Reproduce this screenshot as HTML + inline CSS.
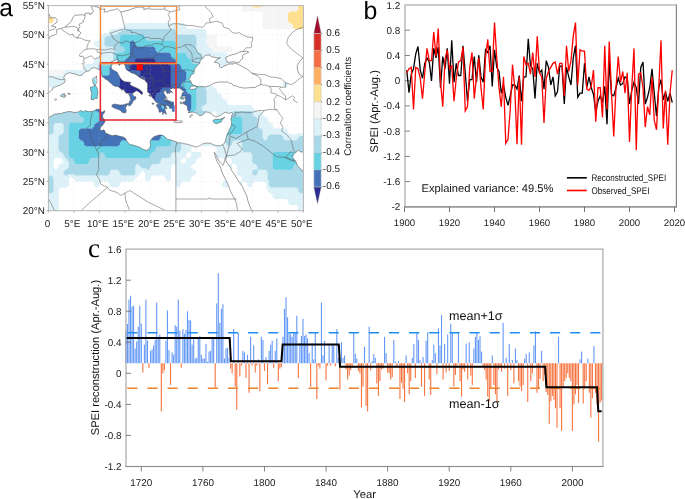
<!DOCTYPE html>
<html><head><meta charset="utf-8"><style>
html,body{margin:0;padding:0;background:#fff;width:685px;height:499px;overflow:hidden}
svg{display:block;font-family:"Liberation Sans", sans-serif;will-change:transform;text-rendering:geometricPrecision}
</style></head><body>
<svg width="685" height="499" viewBox="0 0 685 499">
<text x="-0.8" y="15.5" font-size="24.6" fill="#000">a</text>
<clipPath id="mclip"><rect x="48.4" y="5.6" width="255.0" height="205.1"/></clipPath>
<g clip-path="url(#mclip)">
<path d="M48.3 74.4H62.5V76.0H48.3zM48.3 72.9H63.8V74.6H48.3zM48.3 71.4H63.8V73.1H48.3zM48.3 70.0H63.8V71.6H48.3zM212.8 50.9H232.1V52.6H212.8zM211.5 49.5H232.1V51.1H211.5zM211.5 48.0H232.1V49.7H211.5zM211.5 46.5H232.1V48.2H211.5zM207.7 45.1H216.8V46.7H207.7zM206.4 43.6H216.8V45.3H206.4zM206.4 42.1H216.8V43.8H206.4zM206.4 40.7H216.8V42.3H206.4zM206.4 39.2H216.8V40.9H206.4zM206.4 37.7H216.8V39.4H206.4zM206.4 36.3H216.8V37.9H206.4zM206.4 34.8H216.8V36.5H206.4zM262.5 27.5H293.3V29.1H262.5zM262.5 26.0H293.3V27.7H262.5zM262.5 24.5H293.3V26.2H262.5zM262.5 23.1H292.0V24.7H262.5zM262.5 21.6H288.2V23.3H262.5zM262.5 20.1H288.2V21.8H262.5zM262.5 18.7H288.2V20.4H262.5zM262.5 17.2H288.2V18.9H262.5zM262.5 15.8H288.2V17.4H262.5zM262.5 14.3H288.2V16.0H262.5zM262.5 12.8H288.2V14.5H262.5zM262.5 11.4H288.2V13.0H262.5zM242.1 9.9H297.1V11.6H242.1zM242.1 8.4H298.4V10.1H242.1zM242.1 7.0H298.4V8.6H242.1zM242.1 5.5H298.4V7.2H242.1z" fill="#f5f5f5"/>
<path d="M294.4 27.5H303.5V29.1H294.4zM293.1 26.0H303.5V27.7H293.1zM293.1 24.5H303.5V26.2H293.1zM291.8 23.1H303.5V24.7H291.8zM48.3 21.6H52.3V23.3H48.3zM289.3 21.6H303.5V23.3H289.3zM48.3 20.1H53.6V21.8H48.3zM288.0 20.1H303.5V21.8H288.0zM48.3 18.7H53.6V20.4H48.3zM288.0 18.7H303.5V20.4H288.0zM48.3 17.2H53.6V18.9H48.3zM288.0 17.2H303.5V18.9H288.0zM48.3 15.8H53.6V17.4H48.3zM288.0 15.8H303.5V17.4H288.0zM48.3 14.3H53.6V16.0H48.3zM288.0 14.3H303.5V16.0H288.0zM48.3 12.8H53.6V14.5H48.3zM288.0 12.8H303.5V14.5H288.0zM48.3 11.4H52.3V13.0H48.3zM289.3 11.4H303.5V13.0H289.3zM296.9 9.9H303.5V11.6H296.9zM298.2 8.4H303.5V10.1H298.2zM298.2 7.0H303.5V8.6H298.2zM298.2 5.5H303.5V7.2H298.2z" fill="#fee090"/>
<path d="M48.3 209.1H58.7V210.8H48.3zM298.2 209.1H303.5V210.8H298.2zM48.3 207.7H58.7V209.3H48.3zM298.2 207.7H303.5V209.3H298.2zM48.3 206.2H58.7V207.9H48.3zM298.2 206.2H303.5V207.9H298.2zM48.3 204.7H58.7V206.4H48.3zM296.9 204.7H303.5V206.4H296.9zM48.3 203.3H58.7V204.9H48.3zM289.3 203.3H303.5V204.9H289.3zM48.3 201.8H58.7V203.5H48.3zM288.0 201.8H303.5V203.5H288.0zM48.3 200.3H58.7V202.0H48.3zM288.0 200.3H303.5V202.0H288.0zM48.3 198.9H58.7V200.5H48.3zM286.7 198.9H303.5V200.5H286.7zM48.3 197.4H58.7V199.1H48.3zM274.0 197.4H303.5V199.1H274.0zM48.3 195.9H58.7V197.6H48.3zM272.7 195.9H303.5V197.6H272.7zM48.3 194.5H58.7V196.1H48.3zM272.7 194.5H303.5V196.1H272.7zM48.3 193.0H58.7V194.7H48.3zM271.4 193.0H303.5V194.7H271.4zM52.1 191.6H58.7V193.2H52.1zM268.9 191.6H299.7V193.2H268.9zM53.4 190.1H58.7V191.8H53.4zM267.6 190.1H298.4V191.8H267.6zM53.4 188.6H58.7V190.3H53.4zM267.6 188.6H298.4V190.3H267.6zM53.4 187.2H60.0V188.8H53.4zM266.3 187.2H297.1V188.8H266.3zM53.4 185.7H67.6V187.4H53.4zM95.5 185.7H98.2V187.4H95.5zM110.8 185.7H118.6V187.4H110.8zM177.1 185.7H179.8V187.4H177.1zM223.0 185.7H230.8V187.4H223.0zM238.3 185.7H241.0V187.4H238.3zM248.5 185.7H251.2V187.4H248.5zM266.3 185.7H270.3V187.4H266.3zM53.4 184.2H68.9V185.9H53.4zM94.2 184.2H99.5V185.9H94.2zM109.5 184.2H119.9V185.9H109.5zM175.8 184.2H181.1V185.9H175.8zM221.7 184.2H232.1V185.9H221.7zM237.0 184.2H242.3V185.9H237.0zM247.2 184.2H252.5V185.9H247.2zM266.3 184.2H269.1V185.9H266.3zM53.4 182.8H68.9V184.4H53.4zM94.2 182.8H99.5V184.4H94.2zM109.5 182.8H119.9V184.4H109.5zM175.8 182.8H181.1V184.4H175.8zM221.7 182.8H232.1V184.4H221.7zM237.0 182.8H242.3V184.4H237.0zM247.2 182.8H252.5V184.4H247.2zM266.3 182.8H269.1V184.4H266.3zM53.4 181.3H68.9V183.0H53.4zM92.9 181.3H100.8V183.0H92.9zM108.2 181.3H121.2V183.0H108.2zM175.8 181.3H182.4V183.0H175.8zM223.0 181.3H233.4V183.0H223.0zM237.0 181.3H242.3V183.0H237.0zM245.9 181.3H253.8V183.0H245.9zM265.0 181.3H269.1V183.0H265.0zM53.4 179.8H68.9V181.5H53.4zM75.1 179.8H133.9V181.5H75.1zM146.5 179.8H149.2V181.5H146.5zM166.9 179.8H169.6V181.5H166.9zM175.8 179.8H190.0V181.5H175.8zM225.5 179.8H237.2V181.5H225.5zM242.1 179.8H269.1V181.5H242.1zM53.4 178.4H68.9V180.0H53.4zM73.8 178.4H135.2V180.0H73.8zM145.2 178.4H150.5V180.0H145.2zM165.6 178.4H170.9V180.0H165.6zM175.8 178.4H191.3V180.0H175.8zM226.8 178.4H237.2V180.0H226.8zM242.1 178.4H267.8V180.0H242.1zM53.4 176.9H70.2V178.6H53.4zM72.5 176.9H136.5V178.6H72.5zM145.2 176.9H150.5V178.6H145.2zM165.6 176.9H170.9V178.6H165.6zM175.8 176.9H191.3V178.6H175.8zM226.8 176.9H237.2V178.6H226.8zM242.1 176.9H267.8V178.6H242.1zM52.1 175.4H137.7V177.1H52.1zM145.2 175.4H151.8V177.1H145.2zM164.3 175.4H170.9V177.1H164.3zM175.8 175.4H192.6V177.1H175.8zM228.1 175.4H237.2V177.1H228.1zM240.8 175.4H267.8V177.1H240.8zM48.3 174.0H65.1V175.6H48.3zM67.4 174.0H75.3V175.6H67.4zM108.2 174.0H121.2V175.6H108.2zM133.7 174.0H139.0V175.6H133.7zM145.2 174.0H170.9V175.6H145.2zM175.8 174.0H195.1V175.6H175.8zM237.0 174.0H253.8V175.6H237.0zM256.1 174.0H267.8V175.6H256.1zM48.3 172.5H63.8V174.2H48.3zM109.5 172.5H119.9V174.2H109.5zM135.0 172.5H140.3V174.2H135.0zM145.2 172.5H170.9V174.2H145.2zM175.8 172.5H196.4V174.2H175.8zM237.0 172.5H252.5V174.2H237.0zM257.4 172.5H267.8V174.2H257.4zM48.3 171.0H63.8V172.7H48.3zM109.5 171.0H119.9V172.7H109.5zM135.0 171.0H141.6V172.7H135.0zM143.9 171.0H170.9V172.7H143.9zM175.8 171.0H196.4V172.7H175.8zM237.0 171.0H252.5V172.7H237.0zM257.4 171.0H267.8V172.7H257.4zM48.3 169.6H65.1V171.2H48.3zM110.8 169.6H118.6V171.2H110.8zM135.0 169.6H170.9V171.2H135.0zM175.8 169.6H195.1V171.2H175.8zM237.0 169.6H253.8V171.2H237.0zM257.4 169.6H266.5V171.2H257.4zM48.3 168.1H54.9V169.8H48.3zM57.2 168.1H67.6V169.8H57.2zM135.0 168.1H146.7V169.8H135.0zM149.0 168.1H170.9V169.8H149.0zM175.8 168.1H192.6V169.8H175.8zM228.1 168.1H230.8V169.8H228.1zM237.0 168.1H257.6V169.8H237.0zM48.3 166.7H53.6V168.3H48.3zM58.5 166.7H68.9V168.3H58.5zM135.0 166.7H141.6V168.3H135.0zM150.3 166.7H170.9V168.3H150.3zM175.8 166.7H191.3V168.3H175.8zM226.8 166.7H232.1V168.3H226.8zM237.0 166.7H257.6V168.3H237.0zM48.3 165.2H53.6V166.8H48.3zM58.5 165.2H68.9V166.8H58.5zM135.0 165.2H140.3V166.8H135.0zM150.3 165.2H170.9V166.8H150.3zM175.8 165.2H191.3V166.8H175.8zM226.8 165.2H232.1V166.8H226.8zM237.0 165.2H257.6V166.8H237.0zM48.3 163.7H53.6V165.4H48.3zM59.8 163.7H68.9V165.4H59.8zM136.3 163.7H139.0V165.4H136.3zM151.6 163.7H172.2V165.4H151.6zM174.5 163.7H192.6V165.4H174.5zM228.1 163.7H232.1V165.4H228.1zM235.7 163.7H256.3V165.4H235.7zM48.3 162.3H53.6V163.9H48.3zM62.3 162.3H68.9V163.9H62.3zM159.2 162.3H182.4V163.9H159.2zM184.7 162.3H195.1V163.9H184.7zM231.9 162.3H253.8V163.9H231.9zM48.3 160.8H53.6V162.5H48.3zM63.6 160.8H68.9V162.5H63.6zM160.5 160.8H181.1V162.5H160.5zM186.0 160.8H196.4V162.5H186.0zM231.9 160.8H252.5V162.5H231.9zM48.3 159.3H53.6V161.0H48.3zM62.3 159.3H67.6V161.0H62.3zM160.5 159.3H181.1V161.0H160.5zM186.0 159.3H196.4V161.0H186.0zM231.9 159.3H252.5V161.0H231.9zM48.3 157.9H54.9V159.5H48.3zM61.0 157.9H66.3V159.5H61.0zM161.8 157.9H182.4V159.5H161.8zM186.0 157.9H197.7V159.5H186.0zM230.6 157.9H252.5V159.5H230.6zM48.3 156.4H65.1V158.1H48.3zM169.4 156.4H186.2V158.1H169.4zM189.8 156.4H200.2V158.1H189.8zM217.9 156.4H252.5V158.1H217.9zM48.3 154.9H63.8V156.6H48.3zM170.7 154.9H186.2V156.6H170.7zM191.1 154.9H201.5V156.6H191.1zM216.6 154.9H252.5V156.6H216.6zM48.3 153.5H63.8V155.1H48.3zM170.7 153.5H186.2V155.1H170.7zM191.1 153.5H201.5V155.1H191.1zM216.6 153.5H252.5V155.1H216.6zM48.3 152.0H62.5V153.7H48.3zM172.0 152.0H187.5V153.7H172.0zM191.1 152.0H200.2V153.7H191.1zM216.6 152.0H251.2V153.7H216.6zM48.3 150.5H60.0V152.2H48.3zM179.6 150.5H191.3V152.2H179.6zM216.6 150.5H243.6V152.2H216.6zM48.3 149.1H58.7V150.7H48.3zM180.9 149.1H191.3V150.7H180.9zM216.6 149.1H242.3V150.7H216.6zM48.3 147.6H58.7V149.3H48.3zM180.9 147.6H191.3V149.3H180.9zM216.6 147.6H242.3V149.3H216.6zM48.3 146.1H58.7V147.8H48.3zM180.9 146.1H192.6V147.8H180.9zM215.3 146.1H242.3V147.8H215.3zM48.3 144.7H58.7V146.3H48.3zM180.9 144.7H195.1V146.3H180.9zM202.6 144.7H228.3V146.3H202.6zM230.6 144.7H242.3V146.3H230.6zM48.3 143.2H58.7V144.9H48.3zM180.9 143.2H196.4V144.9H180.9zM201.3 143.2H227.0V144.9H201.3zM231.9 143.2H242.3V144.9H231.9zM48.3 141.7H58.7V143.4H48.3zM180.9 141.7H196.4V143.4H180.9zM201.3 141.7H225.7V143.4H201.3zM231.9 141.7H242.3V143.4H231.9zM48.3 140.3H58.7V141.9H48.3zM182.2 140.3H197.7V141.9H182.2zM201.3 140.3H223.2V141.9H201.3zM233.2 140.3H241.0V141.9H233.2zM48.3 138.8H58.7V140.5H48.3zM189.8 138.8H201.5V140.5H189.8zM205.1 138.8H221.9V140.5H205.1zM263.8 138.8H266.5V140.5H263.8zM284.2 138.8H297.1V140.5H284.2zM48.3 137.3H58.7V139.0H48.3zM191.1 137.3H201.5V139.0H191.1zM206.4 137.3H220.6V139.0H206.4zM262.5 137.3H267.8V139.0H262.5zM282.9 137.3H298.4V139.0H282.9zM48.3 135.9H58.7V137.5H48.3zM191.1 135.9H201.5V137.5H191.1zM206.4 135.9H220.6V137.5H206.4zM262.5 135.9H267.8V137.5H262.5zM282.9 135.9H299.7V137.5H282.9zM48.3 134.4H60.0V136.1H48.3zM189.8 134.4H200.2V136.1H189.8zM207.7 134.4H218.1V136.1H207.7zM262.5 134.4H269.1V136.1H262.5zM281.6 134.4H303.5V136.1H281.6zM52.1 133.0H62.5V134.6H52.1zM189.8 133.0H193.8V134.6H189.8zM210.2 133.0H216.8V134.6H210.2zM262.5 133.0H289.5V134.6H262.5zM296.9 133.0H303.5V134.6H296.9zM53.4 131.5H63.8V133.2H53.4zM189.8 131.5H192.6V133.2H189.8zM211.5 131.5H215.5V133.2H211.5zM262.5 131.5H288.2V133.2H262.5zM53.4 130.0H63.8V131.7H53.4zM189.8 130.0H192.6V131.7H189.8zM211.5 130.0H215.5V131.7H211.5zM262.5 130.0H288.2V131.7H262.5zM53.4 128.6H63.8V130.2H53.4zM180.9 128.6H184.9V130.2H180.9zM191.1 128.6H205.3V130.2H191.1zM212.8 128.6H218.1V130.2H212.8zM261.2 128.6H286.9V130.2H261.2zM53.4 127.1H63.8V128.8H53.4zM136.3 127.1H144.1V128.8H136.3zM177.1 127.1H186.2V128.8H177.1zM192.4 127.1H206.6V128.8H192.4zM215.3 127.1H220.6V128.8H215.3zM258.7 127.1H274.2V128.8H258.7zM53.4 125.6H63.8V127.3H53.4zM136.3 125.6H137.7V127.3H136.3zM142.6 125.6H144.1V127.3H142.6zM177.1 125.6H178.5V127.3H177.1zM184.7 125.6H187.5V127.3H184.7zM205.1 125.6H207.9V127.3H205.1zM219.1 125.6H221.9V127.3H219.1zM257.4 125.6H272.9V127.3H257.4zM53.4 124.2H63.8V125.8H53.4zM135.0 124.2H136.5V125.8H135.0zM143.9 124.2H145.4V125.8H143.9zM177.1 124.2H186.2V125.8H177.1zM205.1 124.2H207.9V125.8H205.1zM220.4 124.2H221.9V125.8H220.4zM257.4 124.2H272.9V125.8H257.4zM54.7 122.7H62.5V124.4H54.7zM135.0 122.7H136.5V124.4H135.0zM143.9 122.7H145.4V124.4H143.9zM205.1 122.7H207.9V124.4H205.1zM220.4 122.7H223.2V124.4H220.4zM257.4 122.7H271.6V124.4H257.4zM132.4 121.2H136.5V122.9H132.4zM143.9 121.2H147.9V122.9H143.9zM205.1 121.2H207.9V122.9H205.1zM220.4 121.2H223.2V122.9H220.4zM257.4 121.2H269.1V122.9H257.4zM115.9 119.8H132.6V121.4H115.9zM147.8 119.8H149.2V121.4H147.8zM205.1 119.8H207.9V121.4H205.1zM221.7 119.8H225.7V121.4H221.7zM257.4 119.8H267.8V121.4H257.4zM114.6 118.3H116.1V120.0H114.6zM147.8 118.3H149.2V120.0H147.8zM205.1 118.3H207.9V120.0H205.1zM221.7 118.3H225.7V120.0H221.7zM257.4 118.3H267.8V120.0H257.4zM114.6 116.8H116.1V118.5H114.6zM143.9 116.8H147.9V118.5H143.9zM205.1 116.8H209.1V118.5H205.1zM220.4 116.8H227.0V118.5H220.4zM256.1 116.8H266.5V118.5H256.1zM112.0 115.4H116.1V117.0H112.0zM143.9 115.4H145.4V117.0H143.9zM205.1 115.4H210.4V117.0H205.1zM217.9 115.4H228.3V117.0H217.9zM253.6 115.4H264.0V117.0H253.6zM110.8 113.9H112.2V115.6H110.8zM143.9 113.9H145.4V115.6H143.9zM206.4 113.9H211.7V115.6H206.4zM216.6 113.9H230.8V115.6H216.6zM252.3 113.9H262.7V115.6H252.3zM110.8 112.4H112.2V114.1H110.8zM127.3 112.4H144.1V114.1H127.3zM206.4 112.4H211.7V114.1H206.4zM216.6 112.4H232.1V114.1H216.6zM252.3 112.4H262.7V114.1H252.3zM110.8 111.0H112.2V112.6H110.8zM123.5 111.0H127.5V112.6H123.5zM205.1 111.0H213.0V112.6H205.1zM215.3 111.0H233.4V112.6H215.3zM251.0 111.0H261.4V112.6H251.0zM110.8 109.5H112.2V111.2H110.8zM123.5 109.5H125.0V111.2H123.5zM202.6 109.5H255.0V111.2H202.6zM110.8 108.0H112.2V109.7H110.8zM123.5 108.0H125.0V109.7H123.5zM201.3 108.0H253.8V109.7H201.3zM110.8 106.6H112.2V108.2H110.8zM122.2 106.6H123.7V108.2H122.2zM201.3 106.6H252.5V108.2H201.3zM54.7 105.1H67.6V106.8H54.7zM110.8 105.1H112.2V106.8H110.8zM122.2 105.1H123.7V106.8H122.2zM202.6 105.1H251.2V106.8H202.6zM53.4 103.7H68.9V105.3H53.4zM85.3 103.7H96.9V105.3H85.3zM110.8 103.7H112.2V105.3H110.8zM122.2 103.7H123.7V105.3H122.2zM205.1 103.7H228.3V105.3H205.1zM52.1 102.2H54.9V103.9H52.1zM66.2 102.2H68.9V103.9H66.2zM84.0 102.2H86.7V103.9H84.0zM96.8 102.2H103.3V103.9H96.8zM110.8 102.2H112.2V103.9H110.8zM122.2 102.2H123.7V103.9H122.2zM206.4 102.2H227.0V103.9H206.4zM52.1 100.7H54.9V102.4H52.1zM67.4 100.7H68.9V102.4H67.4zM84.0 100.7H85.5V102.4H84.0zM101.8 100.7H103.3V102.4H101.8zM110.8 100.7H123.7V102.4H110.8zM206.4 100.7H227.0V102.4H206.4zM48.3 99.3H53.6V100.9H48.3zM67.4 99.3H70.2V100.9H67.4zM82.7 99.3H85.5V100.9H82.7zM101.8 99.3H103.3V100.9H101.8zM206.4 99.3H225.7V100.9H206.4zM48.3 97.8H52.3V99.5H48.3zM68.7 97.8H84.2V99.5H68.7zM101.8 97.8H103.3V99.5H101.8zM206.4 97.8H223.2V99.5H206.4zM101.8 96.3H103.3V98.0H101.8zM206.4 96.3H221.9V98.0H206.4zM101.8 94.9H103.3V96.5H101.8zM206.4 94.9H221.9V96.5H206.4zM101.8 93.4H103.3V95.1H101.8zM206.4 93.4H220.6V95.1H206.4zM54.7 91.9H62.5V93.6H54.7zM70.0 91.9H72.7V93.6H70.0zM101.8 91.9H103.3V93.6H101.8zM206.4 91.9H218.1V93.6H206.4zM53.4 90.5H63.8V92.1H53.4zM68.7 90.5H74.0V92.1H68.7zM101.8 90.5H103.3V92.1H101.8zM206.4 90.5H216.8V92.1H206.4zM53.4 89.0H63.8V90.7H53.4zM68.7 89.0H74.0V90.7H68.7zM101.8 89.0H103.3V90.7H101.8zM206.4 89.0H216.8V90.7H206.4zM52.1 87.5H65.1V89.2H52.1zM67.4 87.5H75.3V89.2H67.4zM98.0 87.5H102.0V89.2H98.0zM205.1 87.5H215.5V89.2H205.1zM48.3 86.1H82.9V87.7H48.3zM98.0 86.1H99.5V87.7H98.0zM203.8 86.1H213.0V87.7H203.8zM284.2 86.1H286.9V87.7H284.2zM48.3 84.6H84.2V86.3H48.3zM98.0 84.6H99.5V86.3H98.0zM202.6 84.6H211.7V86.3H202.6zM282.9 84.6H288.2V86.3H282.9zM48.3 83.1H84.2V84.8H48.3zM96.8 83.1H98.2V84.8H96.8zM202.6 83.1H211.7V84.8H202.6zM282.9 83.1H288.2V84.8H282.9zM48.3 81.7H85.5V83.3H48.3zM87.8 81.7H98.2V83.3H87.8zM205.1 81.7H210.4V83.3H205.1zM284.2 81.7H286.9V83.3H284.2zM48.3 80.2H90.6V81.9H48.3zM206.4 80.2H209.1V81.9H206.4zM48.3 78.8H88.0V80.4H48.3zM206.4 78.8H207.9V80.4H206.4zM48.3 77.3H88.0V78.9H48.3zM206.4 77.3H209.1V78.9H206.4zM48.3 75.8H89.3V77.5H48.3zM207.7 75.8H213.0V77.5H207.7zM62.3 74.4H90.6V76.0H62.3zM207.7 74.4H235.9V76.0H207.7zM63.6 72.9H93.1V74.6H63.6zM210.2 72.9H237.2V74.6H210.2zM63.6 71.4H93.1V73.1H63.6zM211.5 71.4H237.2V73.1H211.5zM64.9 70.0H94.4V71.6H64.9zM211.5 70.0H237.2V71.6H211.5zM82.7 68.5H95.7V70.2H82.7zM211.5 68.5H237.2V70.2H211.5zM84.0 67.0H98.2V68.7H84.0zM211.5 67.0H237.2V68.7H211.5zM84.0 65.6H98.2V67.2H84.0zM211.5 65.6H237.2V67.2H211.5zM85.3 64.1H99.5V65.8H85.3zM210.2 64.1H235.9V65.8H210.2zM92.9 62.6H100.8V64.3H92.9zM207.7 62.6H233.4V64.3H207.7zM94.2 61.2H112.2V62.8H94.2zM206.4 61.2H232.1V62.8H206.4zM94.2 59.7H113.5V61.4H94.2zM206.4 59.7H232.1V61.4H206.4zM95.5 58.2H113.5V59.9H95.5zM205.1 58.2H230.8V59.9H205.1zM98.0 56.8H113.5V58.4H98.0zM202.6 56.8H228.3V58.4H202.6zM99.3 55.3H113.5V57.0H99.3zM201.3 55.3H227.0V57.0H201.3zM99.3 53.8H113.5V55.5H99.3zM201.3 53.8H227.0V55.5H201.3zM99.3 52.4H113.5V54.0H99.3zM200.0 52.4H225.7V54.0H200.0zM99.3 50.9H113.5V52.6H99.3zM197.5 50.9H213.0V52.6H197.5zM99.3 49.5H114.8V51.1H99.3zM196.2 49.5H211.7V51.1H196.2zM99.3 48.0H114.8V49.7H99.3zM196.2 48.0H211.7V49.7H196.2zM98.0 46.5H113.5V48.2H98.0zM196.2 46.5H210.4V48.2H196.2zM95.5 45.1H105.9V46.7H95.5zM196.2 45.1H207.9V46.7H196.2zM94.2 43.6H104.6V45.3H94.2zM196.2 43.6H206.6V45.3H196.2zM94.2 42.1H104.6V43.8H94.2zM196.2 42.1H206.6V43.8H196.2zM95.5 40.7H104.6V42.3H95.5zM196.2 40.7H206.6V42.3H196.2zM98.0 39.2H104.6V40.9H98.0zM196.2 39.2H206.6V40.9H196.2zM99.3 37.7H104.6V39.4H99.3zM196.2 37.7H206.6V39.4H196.2zM99.3 36.3H105.9V37.9H99.3zM196.2 36.3H206.6V37.9H196.2zM100.6 34.8H111.0V36.5H100.6zM194.9 34.8H206.6V36.5H194.9zM103.1 33.3H117.3V35.0H103.1zM177.1 33.3H206.6V35.0H177.1zM108.2 31.9H118.6V33.5H108.2zM175.8 31.9H206.6V33.5H175.8zM109.5 30.4H121.2V32.1H109.5zM175.8 30.4H206.6V32.1H175.8zM110.8 28.9H126.3V30.6H110.8zM174.5 28.9H205.3V30.6H174.5zM118.4 27.5H187.5V29.1H118.4zM123.5 26.0H186.2V27.7H123.5zM124.8 24.5H186.2V26.2H124.8zM126.1 23.1H184.9V24.7H126.1z" fill="#ddf1f9"/>
<path d="M48.3 191.6H52.3V193.2H48.3zM299.5 191.6H303.5V193.2H299.5zM48.3 190.1H53.6V191.8H48.3zM298.2 190.1H303.5V191.8H298.2zM48.3 188.6H53.6V190.3H48.3zM298.2 188.6H303.5V190.3H298.2zM48.3 187.2H53.6V188.8H48.3zM296.9 187.2H303.5V188.8H296.9zM48.3 185.7H53.6V187.4H48.3zM270.1 185.7H303.5V187.4H270.1zM48.3 184.2H53.6V185.9H48.3zM268.9 184.2H303.5V185.9H268.9zM48.3 182.8H53.6V184.4H48.3zM268.9 182.8H303.5V184.4H268.9zM48.3 181.3H53.6V183.0H48.3zM268.9 181.3H303.5V183.0H268.9zM48.3 179.8H53.6V181.5H48.3zM268.9 179.8H303.5V181.5H268.9zM48.3 178.4H53.6V180.0H48.3zM267.6 178.4H303.5V180.0H267.6zM48.3 176.9H53.6V178.6H48.3zM267.6 176.9H303.5V178.6H267.6zM48.3 175.4H52.3V177.1H48.3zM267.6 175.4H303.5V177.1H267.6zM64.9 174.0H67.6V175.6H64.9zM75.1 174.0H108.4V175.6H75.1zM121.0 174.0H133.9V175.6H121.0zM253.6 174.0H256.3V175.6H253.6zM267.6 174.0H303.5V175.6H267.6zM63.6 172.5H109.7V174.2H63.6zM119.7 172.5H135.2V174.2H119.7zM252.3 172.5H257.6V174.2H252.3zM267.6 172.5H303.5V174.2H267.6zM63.6 171.0H109.7V172.7H63.6zM119.7 171.0H135.2V172.7H119.7zM252.3 171.0H257.6V172.7H252.3zM267.6 171.0H303.5V172.7H267.6zM64.9 169.6H111.0V171.2H64.9zM118.4 169.6H135.2V171.2H118.4zM253.6 169.6H257.6V171.2H253.6zM266.3 169.6H303.5V171.2H266.3zM67.4 168.1H135.2V169.8H67.4zM146.5 168.1H149.2V169.8H146.5zM257.4 168.1H274.2V169.8H257.4zM291.8 168.1H303.5V169.8H291.8zM68.7 166.7H135.2V168.3H68.7zM141.4 166.7H150.5V168.3H141.4zM257.4 166.7H272.9V168.3H257.4zM293.1 166.7H303.5V168.3H293.1zM68.7 165.2H135.2V166.8H68.7zM140.1 165.2H150.5V166.8H140.1zM257.4 165.2H272.9V166.8H257.4zM293.1 165.2H303.5V166.8H293.1zM68.7 163.7H136.5V165.4H68.7zM138.8 163.7H151.8V165.4H138.8zM256.1 163.7H272.9V165.4H256.1zM294.4 163.7H303.5V165.4H294.4zM68.7 162.3H75.3V163.9H68.7zM87.8 162.3H159.4V163.9H87.8zM253.6 162.3H272.9V163.9H253.6zM296.9 162.3H303.5V163.9H296.9zM68.7 160.8H74.0V162.5H68.7zM89.1 160.8H160.7V162.5H89.1zM252.3 160.8H272.9V162.5H252.3zM298.2 160.8H303.5V162.5H298.2zM67.4 159.3H74.0V161.0H67.4zM89.1 159.3H160.7V161.0H89.1zM252.3 159.3H272.9V161.0H252.3zM298.2 159.3H303.5V161.0H298.2zM66.2 157.9H72.7V159.5H66.2zM90.4 157.9H162.0V159.5H90.4zM252.3 157.9H272.9V159.5H252.3zM298.2 157.9H303.5V159.5H298.2zM64.9 156.4H70.2V158.1H64.9zM98.0 156.4H105.9V158.1H98.0zM149.0 156.4H169.6V158.1H149.0zM252.3 156.4H272.9V158.1H252.3zM298.2 156.4H303.5V158.1H298.2zM63.6 154.9H68.9V156.6H63.6zM99.3 154.9H104.6V156.6H99.3zM150.3 154.9H170.9V156.6H150.3zM252.3 154.9H272.9V156.6H252.3zM298.2 154.9H303.5V156.6H298.2zM63.6 153.5H68.9V155.1H63.6zM99.3 153.5H104.6V155.1H99.3zM150.3 153.5H170.9V155.1H150.3zM252.3 153.5H272.9V155.1H252.3zM298.2 153.5H303.5V155.1H298.2zM62.3 152.0H68.9V153.7H62.3zM100.6 152.0H103.3V153.7H100.6zM151.6 152.0H172.2V153.7H151.6zM251.0 152.0H274.2V153.7H251.0zM296.9 152.0H303.5V153.7H296.9zM59.8 150.5H68.9V152.2H59.8zM154.1 150.5H179.8V152.2H154.1zM243.4 150.5H303.5V152.2H243.4zM58.5 149.1H68.9V150.7H58.5zM155.4 149.1H181.1V150.7H155.4zM242.1 149.1H303.5V150.7H242.1zM58.5 147.6H68.9V149.3H58.5zM155.4 147.6H181.1V149.3H155.4zM242.1 147.6H303.5V149.3H242.1zM58.5 146.1H68.9V147.8H58.5zM156.7 146.1H181.1V147.8H156.7zM242.1 146.1H303.5V147.8H242.1zM58.5 144.7H68.9V146.3H58.5zM169.4 144.7H181.1V146.3H169.4zM228.1 144.7H230.8V146.3H228.1zM242.1 144.7H303.5V146.3H242.1zM58.5 143.2H68.9V144.9H58.5zM170.7 143.2H181.1V144.9H170.7zM226.8 143.2H232.1V144.9H226.8zM242.1 143.2H303.5V144.9H242.1zM58.5 141.7H68.9V143.4H58.5zM170.7 141.7H181.1V143.4H170.7zM225.5 141.7H232.1V143.4H225.5zM242.1 141.7H303.5V143.4H242.1zM58.5 140.3H68.9V141.9H58.5zM172.0 140.3H182.4V141.9H172.0zM223.0 140.3H233.4V141.9H223.0zM240.8 140.3H303.5V141.9H240.8zM58.5 138.8H68.9V140.5H58.5zM174.5 138.8H190.0V140.5H174.5zM221.7 138.8H264.0V140.5H221.7zM266.3 138.8H284.4V140.5H266.3zM296.9 138.8H303.5V140.5H296.9zM58.5 137.3H68.9V139.0H58.5zM175.8 137.3H191.3V139.0H175.8zM220.4 137.3H223.2V139.0H220.4zM225.5 137.3H262.7V139.0H225.5zM267.6 137.3H283.1V139.0H267.6zM298.2 137.3H303.5V139.0H298.2zM58.5 135.9H68.9V137.5H58.5zM175.8 135.9H191.3V137.5H175.8zM220.4 135.9H223.2V137.5H220.4zM226.8 135.9H262.7V137.5H226.8zM267.6 135.9H283.1V137.5H267.6zM299.5 135.9H303.5V137.5H299.5zM59.8 134.4H68.9V136.1H59.8zM177.1 134.4H190.0V136.1H177.1zM217.9 134.4H221.9V136.1H217.9zM228.1 134.4H262.7V136.1H228.1zM268.9 134.4H281.8V136.1H268.9zM48.3 133.0H52.3V134.6H48.3zM62.3 133.0H68.9V134.6H62.3zM179.6 133.0H190.0V134.6H179.6zM216.6 133.0H220.6V134.6H216.6zM240.8 133.0H262.7V134.6H240.8zM48.3 131.5H53.6V133.2H48.3zM63.6 131.5H68.9V133.2H63.6zM180.9 131.5H190.0V133.2H180.9zM215.3 131.5H218.1V133.2H215.3zM242.1 131.5H262.7V133.2H242.1zM48.3 130.0H53.6V131.7H48.3zM63.6 130.0H68.9V131.7H63.6zM179.6 130.0H190.0V131.7H179.6zM215.3 130.0H219.3V131.7H215.3zM242.1 130.0H262.7V131.7H242.1zM48.3 128.6H53.6V130.2H48.3zM63.6 128.6H68.9V130.2H63.6zM136.3 128.6H144.1V130.2H136.3zM175.8 128.6H181.1V130.2H175.8zM184.7 128.6H191.3V130.2H184.7zM217.9 128.6H221.9V130.2H217.9zM242.1 128.6H261.4V130.2H242.1zM48.3 127.1H53.6V128.8H48.3zM63.6 127.1H68.9V128.8H63.6zM135.0 127.1H136.5V128.8H135.0zM143.9 127.1H145.4V128.8H143.9zM175.8 127.1H177.3V128.8H175.8zM186.0 127.1H192.6V128.8H186.0zM220.4 127.1H223.2V128.8H220.4zM242.1 127.1H258.9V128.8H242.1zM48.3 125.6H53.6V127.3H48.3zM63.6 125.6H68.9V127.3H63.6zM135.0 125.6H136.5V127.3H135.0zM143.9 125.6H145.4V127.3H143.9zM175.8 125.6H177.3V127.3H175.8zM187.3 125.6H205.3V127.3H187.3zM221.7 125.6H223.2V127.3H221.7zM242.1 125.6H257.6V127.3H242.1zM48.3 124.2H53.6V125.8H48.3zM63.6 124.2H68.9V125.8H63.6zM133.7 124.2H135.2V125.8H133.7zM145.2 124.2H146.7V125.8H145.2zM175.8 124.2H177.3V125.8H175.8zM186.0 124.2H205.3V125.8H186.0zM221.7 124.2H224.4V125.8H221.7zM242.1 124.2H257.6V125.8H242.1zM48.3 122.7H54.9V124.4H48.3zM62.3 122.7H70.2V124.4H62.3zM132.4 122.7H135.2V124.4H132.4zM145.2 122.7H147.9V124.4H145.2zM175.8 122.7H187.5V124.4H175.8zM189.8 122.7H205.3V124.4H189.8zM223.0 122.7H225.7V124.4H223.0zM242.1 122.7H257.6V124.4H242.1zM48.3 121.2H82.9V122.9H48.3zM114.6 121.2H132.6V122.9H114.6zM147.8 121.2H150.5V122.9H147.8zM191.1 121.2H205.3V122.9H191.1zM223.0 121.2H227.0V122.9H223.0zM242.1 121.2H257.6V122.9H242.1zM48.3 119.8H84.2V121.4H48.3zM114.6 119.8H116.1V121.4H114.6zM149.0 119.8H150.5V121.4H149.0zM192.4 119.8H205.3V121.4H192.4zM225.5 119.8H228.3V121.4H225.5zM242.1 119.8H257.6V121.4H242.1zM48.3 118.3H84.2V120.0H48.3zM113.3 118.3H114.8V120.0H113.3zM149.0 118.3H150.5V120.0H149.0zM192.4 118.3H205.3V120.0H192.4zM225.5 118.3H228.3V120.0H225.5zM242.1 118.3H257.6V120.0H242.1zM48.3 116.8H82.9V118.5H48.3zM112.0 116.8H114.8V118.5H112.0zM147.8 116.8H150.5V118.5H147.8zM192.4 116.8H205.3V118.5H192.4zM226.8 116.8H233.4V118.5H226.8zM240.8 116.8H256.3V118.5H240.8zM48.3 115.4H80.4V117.0H48.3zM109.5 115.4H112.2V117.0H109.5zM145.2 115.4H147.9V117.0H145.2zM192.4 115.4H205.3V117.0H192.4zM228.1 115.4H253.8V117.0H228.1zM48.3 113.9H79.1V115.6H48.3zM109.5 113.9H111.0V115.6H109.5zM145.2 113.9H146.7V115.6H145.2zM191.1 113.9H206.6V115.6H191.1zM230.6 113.9H252.5V115.6H230.6zM48.3 112.4H79.1V114.1H48.3zM109.5 112.4H111.0V114.1H109.5zM143.9 112.4H145.4V114.1H143.9zM192.4 112.4H206.6V114.1H192.4zM231.9 112.4H252.5V114.1H231.9zM48.3 111.0H77.8V112.6H48.3zM109.5 111.0H111.0V112.6H109.5zM127.3 111.0H144.1V112.6H127.3zM193.7 111.0H205.3V112.6H193.7zM233.2 111.0H251.2V112.6H233.2zM48.3 109.5H75.3V111.2H48.3zM109.5 109.5H111.0V111.2H109.5zM124.8 109.5H127.5V111.2H124.8zM194.9 109.5H202.8V111.2H194.9zM48.3 108.0H74.0V109.7H48.3zM109.5 108.0H111.0V109.7H109.5zM124.8 108.0H126.3V109.7H124.8zM196.2 108.0H201.5V109.7H196.2zM48.3 106.6H74.0V108.2H48.3zM109.5 106.6H111.0V108.2H109.5zM123.5 106.6H125.0V108.2H123.5zM196.2 106.6H201.5V108.2H196.2zM48.3 105.1H54.9V106.8H48.3zM67.4 105.1H72.7V106.8H67.4zM84.0 105.1H96.9V106.8H84.0zM109.5 105.1H111.0V106.8H109.5zM123.5 105.1H125.0V106.8H123.5zM196.2 105.1H202.8V106.8H196.2zM48.3 103.7H53.6V105.3H48.3zM68.7 103.7H71.4V105.3H68.7zM82.7 103.7H85.5V105.3H82.7zM96.8 103.7H104.6V105.3H96.8zM109.5 103.7H111.0V105.3H109.5zM123.5 103.7H125.0V105.3H123.5zM196.2 103.7H205.3V105.3H196.2zM48.3 102.2H52.3V103.9H48.3zM68.7 102.2H70.2V103.9H68.7zM82.7 102.2H84.2V103.9H82.7zM103.1 102.2H104.6V103.9H103.1zM109.5 102.2H111.0V103.9H109.5zM123.5 102.2H125.0V103.9H123.5zM196.2 102.2H206.6V103.9H196.2zM48.3 100.7H52.3V102.4H48.3zM68.7 100.7H71.4V102.4H68.7zM81.5 100.7H84.2V102.4H81.5zM103.1 100.7H104.6V102.4H103.1zM109.5 100.7H111.0V102.4H109.5zM123.5 100.7H125.0V102.4H123.5zM196.2 100.7H206.6V102.4H196.2zM70.0 99.3H82.9V100.9H70.0zM103.1 99.3H104.6V100.9H103.1zM110.8 99.3H123.7V100.9H110.8zM196.2 99.3H206.6V100.9H196.2zM103.1 97.8H104.6V99.5H103.1zM196.2 97.8H206.6V99.5H196.2zM103.1 96.3H104.6V98.0H103.1zM196.2 96.3H206.6V98.0H196.2zM103.1 94.9H104.6V96.5H103.1zM196.2 94.9H206.6V96.5H196.2zM103.1 93.4H104.6V95.1H103.1zM196.2 93.4H206.6V95.1H196.2zM103.1 91.9H104.6V93.6H103.1zM196.2 91.9H206.6V93.6H196.2zM103.1 90.5H104.6V92.1H103.1zM196.2 90.5H206.6V92.1H196.2zM103.1 89.0H104.6V90.7H103.1zM196.2 89.0H206.6V90.7H196.2zM101.8 87.5H104.6V89.2H101.8zM197.5 87.5H205.3V89.2H197.5zM99.3 86.1H102.0V87.7H99.3zM198.8 86.1H204.0V87.7H198.8zM99.3 84.6H100.8V86.3H99.3zM200.0 84.6H202.8V86.3H200.0zM98.0 83.1H99.5V84.8H98.0zM200.0 83.1H202.8V84.8H200.0zM98.0 81.7H99.5V83.3H98.0zM201.3 81.7H205.3V83.3H201.3zM90.4 80.2H98.2V81.9H90.4zM202.6 80.2H206.6V81.9H202.6zM87.8 78.8H91.8V80.4H87.8zM203.8 78.8H206.6V80.4H203.8zM87.8 77.3H90.6V78.9H87.8zM205.1 77.3H206.6V78.9H205.1zM89.1 75.8H93.1V77.5H89.1zM205.1 75.8H207.9V77.5H205.1zM90.4 74.4H94.4V76.0H90.4zM205.1 74.4H207.9V76.0H205.1zM92.9 72.9H95.7V74.6H92.9zM206.4 72.9H210.4V74.6H206.4zM92.9 71.4H95.7V73.1H92.9zM206.4 71.4H211.7V73.1H206.4zM94.2 70.0H98.2V71.6H94.2zM205.1 70.0H211.7V71.6H205.1zM95.5 68.5H99.5V70.2H95.5zM202.6 68.5H211.7V70.2H202.6zM98.0 67.0H100.8V68.7H98.0zM201.3 67.0H211.7V68.7H201.3zM98.0 65.6H100.8V67.2H98.0zM201.3 65.6H211.7V67.2H201.3zM99.3 64.1H109.7V65.8H99.3zM200.0 64.1H210.4V65.8H200.0zM100.6 62.6H113.5V64.3H100.6zM192.4 62.6H207.9V64.3H192.4zM112.0 61.2H116.1V62.8H112.0zM191.1 61.2H206.6V62.8H191.1zM113.3 59.7H116.1V61.4H113.3zM191.1 59.7H206.6V61.4H191.1zM113.3 58.2H116.1V59.9H113.3zM189.8 58.2H205.3V59.9H189.8zM113.3 56.8H116.1V58.4H113.3zM187.3 56.8H202.8V58.4H187.3zM113.3 55.3H116.1V57.0H113.3zM186.0 55.3H201.5V57.0H186.0zM113.3 53.8H116.1V55.5H113.3zM186.0 53.8H201.5V55.5H186.0zM113.3 52.4H117.3V54.0H113.3zM184.7 52.4H200.2V54.0H184.7zM113.3 50.9H123.7V52.6H113.3zM177.1 50.9H197.7V52.6H177.1zM114.6 49.5H125.0V51.1H114.6zM175.8 49.5H196.4V51.1H175.8zM114.6 48.0H125.0V49.7H114.6zM175.8 48.0H196.4V49.7H175.8zM113.3 46.5H123.7V48.2H113.3zM175.8 46.5H196.4V48.2H175.8zM105.7 45.1H121.2V46.7H105.7zM175.8 45.1H196.4V46.7H175.8zM104.4 43.6H119.9V45.3H104.4zM175.8 43.6H196.4V45.3H175.8zM104.4 42.1H119.9V43.8H104.4zM175.8 42.1H196.4V43.8H175.8zM104.4 40.7H119.9V42.3H104.4zM174.5 40.7H196.4V42.3H174.5zM104.4 39.2H119.9V40.9H104.4zM146.5 39.2H196.4V40.9H146.5zM104.4 37.7H119.9V39.4H104.4zM145.2 37.7H196.4V39.4H145.2zM105.7 36.3H119.9V37.9H105.7zM145.2 36.3H196.4V37.9H145.2zM110.8 34.8H121.2V36.5H110.8zM143.9 34.8H195.1V36.5H143.9zM117.2 33.3H177.3V35.0H117.2zM118.4 31.9H176.0V33.5H118.4zM121.0 30.4H176.0V32.1H121.0zM126.1 28.9H174.7V30.6H126.1z" fill="#a9d8e8"/>
<path d="M274.0 168.1H292.0V169.8H274.0zM272.7 166.7H293.3V168.3H272.7zM272.7 165.2H293.3V166.8H272.7zM272.7 163.7H294.6V165.4H272.7zM75.1 162.3H88.0V163.9H75.1zM272.7 162.3H297.1V163.9H272.7zM73.8 160.8H89.3V162.5H73.8zM272.7 160.8H298.4V162.5H272.7zM73.8 159.3H89.3V161.0H73.8zM272.7 159.3H298.4V161.0H272.7zM72.5 157.9H90.6V159.5H72.5zM272.7 157.9H298.4V159.5H272.7zM70.0 156.4H98.2V158.1H70.0zM105.7 156.4H149.2V158.1H105.7zM272.7 156.4H298.4V158.1H272.7zM68.7 154.9H99.5V156.6H68.7zM104.4 154.9H150.5V156.6H104.4zM272.7 154.9H298.4V156.6H272.7zM68.7 153.5H99.5V155.1H68.7zM104.4 153.5H150.5V155.1H104.4zM272.7 153.5H298.4V155.1H272.7zM68.7 152.0H100.8V153.7H68.7zM103.1 152.0H151.8V153.7H103.1zM274.0 152.0H297.1V153.7H274.0zM68.7 150.5H154.3V152.2H68.7zM68.7 149.1H155.6V150.7H68.7zM68.7 147.6H155.6V149.3H68.7zM68.7 146.1H156.9V147.8H68.7zM68.7 144.7H85.5V146.3H68.7zM118.4 144.7H169.6V146.3H118.4zM68.7 143.2H84.2V144.9H68.7zM119.7 143.2H170.9V144.9H119.7zM68.7 141.7H84.2V143.4H68.7zM119.7 141.7H170.9V143.4H119.7zM68.7 140.3H82.9V141.9H68.7zM121.0 140.3H172.2V141.9H121.0zM68.7 138.8H80.4V140.5H68.7zM128.6 138.8H151.8V140.5H128.6zM159.2 138.8H174.7V140.5H159.2zM68.7 137.3H79.1V139.0H68.7zM129.9 137.3H150.5V139.0H129.9zM160.5 137.3H176.0V139.0H160.5zM223.0 137.3H225.7V139.0H223.0zM68.7 135.9H79.1V137.5H68.7zM129.9 135.9H150.5V137.5H129.9zM160.5 135.9H176.0V137.5H160.5zM223.0 135.9H227.0V137.5H223.0zM68.7 134.4H79.1V136.1H68.7zM131.2 134.4H149.2V136.1H131.2zM161.8 134.4H177.3V136.1H161.8zM221.7 134.4H228.3V136.1H221.7zM68.7 133.0H79.1V134.6H68.7zM133.7 133.0H146.7V134.6H133.7zM164.3 133.0H179.8V134.6H164.3zM220.4 133.0H241.0V134.6H220.4zM68.7 131.5H79.1V133.2H68.7zM135.0 131.5H145.4V133.2H135.0zM165.6 131.5H181.1V133.2H165.6zM217.9 131.5H242.3V133.2H217.9zM68.7 130.0H79.1V131.7H68.7zM133.7 130.0H146.7V131.7H133.7zM165.6 130.0H179.8V131.7H165.6zM219.1 130.0H242.3V131.7H219.1zM68.7 128.6H80.4V130.2H68.7zM133.7 128.6H136.5V130.2H133.7zM143.9 128.6H146.7V130.2H143.9zM166.9 128.6H176.0V130.2H166.9zM221.7 128.6H242.3V130.2H221.7zM68.7 127.1H93.1V128.8H68.7zM133.7 127.1H135.2V128.8H133.7zM145.2 127.1H146.7V128.8H145.2zM173.2 127.1H176.0V128.8H173.2zM223.0 127.1H242.3V128.8H223.0zM68.7 125.6H94.4V127.3H68.7zM133.7 125.6H135.2V127.3H133.7zM145.2 125.6H146.7V127.3H145.2zM173.2 125.6H176.0V127.3H173.2zM223.0 125.6H242.3V127.3H223.0zM68.7 124.2H94.4V125.8H68.7zM132.4 124.2H133.9V125.8H132.4zM146.5 124.2H147.9V125.8H146.5zM174.5 124.2H176.0V125.8H174.5zM224.2 124.2H242.3V125.8H224.2zM70.0 122.7H95.7V124.4H70.0zM113.3 122.7H132.6V124.4H113.3zM147.8 122.7H151.8V124.4H147.8zM174.5 122.7H176.0V124.4H174.5zM187.3 122.7H190.0V124.4H187.3zM225.5 122.7H242.3V124.4H225.5zM82.7 121.2H98.2V122.9H82.7zM113.3 121.2H114.8V122.9H113.3zM150.3 121.2H151.8V122.9H150.3zM174.5 121.2H191.3V122.9H174.5zM226.8 121.2H242.3V122.9H226.8zM84.0 119.8H99.5V121.4H84.0zM113.3 119.8H114.8V121.4H113.3zM150.3 119.8H151.8V121.4H150.3zM189.8 119.8H192.6V121.4H189.8zM228.1 119.8H242.3V121.4H228.1zM84.0 118.3H99.5V120.0H84.0zM112.0 118.3H113.5V120.0H112.0zM150.3 118.3H151.8V120.0H150.3zM189.8 118.3H192.6V120.0H189.8zM228.1 118.3H242.3V120.0H228.1zM82.7 116.8H99.5V118.5H82.7zM108.2 116.8H112.2V118.5H108.2zM150.3 116.8H151.8V118.5H150.3zM188.5 116.8H192.6V118.5H188.5zM233.2 116.8H241.0V118.5H233.2zM80.2 115.4H99.5V117.0H80.2zM108.2 115.4H109.7V117.0H108.2zM147.8 115.4H151.8V117.0H147.8zM187.3 115.4H192.6V117.0H187.3zM78.9 113.9H99.5V115.6H78.9zM108.2 113.9H109.7V115.6H108.2zM146.5 113.9H147.9V115.6H146.5zM186.0 113.9H191.3V115.6H186.0zM78.9 112.4H99.5V114.1H78.9zM108.2 112.4H109.7V114.1H108.2zM145.2 112.4H146.7V114.1H145.2zM186.0 112.4H192.6V114.1H186.0zM77.6 111.0H98.2V112.6H77.6zM108.2 111.0H109.7V112.6H108.2zM143.9 111.0H146.7V112.6H143.9zM187.3 111.0H193.8V112.6H187.3zM75.1 109.5H95.7V111.2H75.1zM108.2 109.5H109.7V111.2H108.2zM127.3 109.5H144.1V111.2H127.3zM189.8 109.5H195.1V111.2H189.8zM73.8 108.0H94.4V109.7H73.8zM108.2 108.0H109.7V109.7H108.2zM126.1 108.0H127.5V109.7H126.1zM191.1 108.0H196.4V109.7H191.1zM73.8 106.6H96.9V108.2H73.8zM108.2 106.6H109.7V108.2H108.2zM124.8 106.6H126.3V108.2H124.8zM191.1 106.6H196.4V108.2H191.1zM72.5 105.1H84.2V106.8H72.5zM96.8 105.1H105.9V106.8H96.8zM108.2 105.1H109.7V106.8H108.2zM124.8 105.1H126.3V106.8H124.8zM191.1 105.1H196.4V106.8H191.1zM71.2 103.7H82.9V105.3H71.2zM104.4 103.7H105.9V105.3H104.4zM108.2 103.7H109.7V105.3H108.2zM124.8 103.7H126.3V105.3H124.8zM191.1 103.7H196.4V105.3H191.1zM70.0 102.2H82.9V103.9H70.0zM104.4 102.2H105.9V103.9H104.4zM108.2 102.2H109.7V103.9H108.2zM124.8 102.2H126.3V103.9H124.8zM191.1 102.2H196.4V103.9H191.1zM71.2 100.7H81.6V102.4H71.2zM104.4 100.7H105.9V102.4H104.4zM108.2 100.7H109.7V102.4H108.2zM124.8 100.7H126.3V102.4H124.8zM191.1 100.7H196.4V102.4H191.1zM104.4 99.3H105.9V100.9H104.4zM108.2 99.3H111.0V100.9H108.2zM123.5 99.3H126.3V100.9H123.5zM191.1 99.3H196.4V100.9H191.1zM104.4 97.8H105.9V99.5H104.4zM109.5 97.8H125.0V99.5H109.5zM191.1 97.8H196.4V99.5H191.1zM104.4 96.3H105.9V98.0H104.4zM191.1 96.3H196.4V98.0H191.1zM104.4 94.9H105.9V96.5H104.4zM191.1 94.9H196.4V96.5H191.1zM104.4 93.4H105.9V95.1H104.4zM189.8 93.4H196.4V95.1H189.8zM104.4 91.9H105.9V93.6H104.4zM187.3 91.9H196.4V93.6H187.3zM104.4 90.5H105.9V92.1H104.4zM186.0 90.5H196.4V92.1H186.0zM104.4 89.0H105.9V90.7H104.4zM186.0 89.0H196.4V90.7H186.0zM104.4 87.5H105.9V89.2H104.4zM184.7 87.5H197.7V89.2H184.7zM101.8 86.1H105.9V87.7H101.8zM182.2 86.1H198.9V87.7H182.2zM100.6 84.6H102.0V86.3H100.6zM180.9 84.6H200.2V86.3H180.9zM99.3 83.1H100.8V84.8H99.3zM180.9 83.1H200.2V84.8H180.9zM99.3 81.7H100.8V83.3H99.3zM182.2 81.7H201.5V83.3H182.2zM98.0 80.2H100.8V81.9H98.0zM184.7 80.2H202.8V81.9H184.7zM91.7 78.8H100.8V80.4H91.7zM186.0 78.8H204.0V80.4H186.0zM90.4 77.3H99.5V78.9H90.4zM186.0 77.3H205.3V78.9H186.0zM92.9 75.8H100.8V77.5H92.9zM186.0 75.8H205.3V77.5H186.0zM94.2 74.4H108.4V76.0H94.2zM186.0 74.4H205.3V76.0H186.0zM95.5 72.9H109.7V74.6H95.5zM186.0 72.9H206.6V74.6H186.0zM95.5 71.4H109.7V73.1H95.5zM186.0 71.4H206.6V73.1H186.0zM98.0 70.0H109.7V71.6H98.0zM184.7 70.0H205.3V71.6H184.7zM99.3 68.5H109.7V70.2H99.3zM182.2 68.5H202.8V70.2H182.2zM100.6 67.0H109.7V68.7H100.6zM180.9 67.0H201.5V68.7H180.9zM100.6 65.6H111.0V67.2H100.6zM180.9 65.6H201.5V67.2H180.9zM109.5 64.1H116.1V65.8H109.5zM179.6 64.1H200.2V65.8H179.6zM113.3 62.6H123.7V64.3H113.3zM177.1 62.6H192.6V64.3H177.1zM115.9 61.2H125.0V62.8H115.9zM175.8 61.2H191.3V62.8H175.8zM115.9 59.7H125.0V61.4H115.9zM175.8 59.7H191.3V61.4H175.8zM115.9 58.2H126.3V59.9H115.9zM174.5 58.2H190.0V59.9H174.5zM115.9 56.8H128.8V58.4H115.9zM172.0 56.8H187.5V58.4H172.0zM115.9 55.3H130.1V57.0H115.9zM170.7 55.3H186.2V57.0H170.7zM115.9 53.8H130.1V55.5H115.9zM170.7 53.8H186.2V55.5H170.7zM117.2 52.4H130.1V54.0H117.2zM169.4 52.4H184.9V54.0H169.4zM123.5 50.9H130.1V52.6H123.5zM156.7 50.9H177.3V52.6H156.7zM124.8 49.5H130.1V51.1H124.8zM155.4 49.5H176.0V51.1H155.4zM124.8 48.0H130.1V49.7H124.8zM155.4 48.0H176.0V49.7H155.4zM123.5 46.5H130.1V48.2H123.5zM154.1 46.5H176.0V48.2H154.1zM121.0 45.1H130.1V46.7H121.0zM136.3 45.1H176.0V46.7H136.3zM119.7 43.6H130.1V45.3H119.7zM135.0 43.6H176.0V45.3H135.0zM119.7 42.1H130.1V43.8H119.7zM135.0 42.1H176.0V43.8H135.0zM119.7 40.7H131.4V42.3H119.7zM133.7 40.7H174.7V42.3H133.7zM119.7 39.2H146.7V40.9H119.7zM119.7 37.7H145.4V39.4H119.7zM119.7 36.3H145.4V37.9H119.7zM121.0 34.8H144.1V36.5H121.0z" fill="#67d2e3"/>
<path d="M85.3 144.7H118.6V146.3H85.3zM84.0 143.2H119.9V144.9H84.0zM84.0 141.7H119.9V143.4H84.0zM82.7 140.3H121.2V141.9H82.7zM80.2 138.8H128.8V140.5H80.2zM151.6 138.8H159.4V140.5H151.6zM78.9 137.3H130.1V139.0H78.9zM150.3 137.3H160.7V139.0H150.3zM78.9 135.9H130.1V137.5H78.9zM150.3 135.9H160.7V137.5H150.3zM78.9 134.4H131.4V136.1H78.9zM149.0 134.4H162.0V136.1H149.0zM78.9 133.0H133.9V134.6H78.9zM146.5 133.0H164.5V134.6H146.5zM78.9 131.5H135.2V133.2H78.9zM145.2 131.5H165.8V133.2H145.2zM78.9 130.0H133.9V131.7H78.9zM146.5 130.0H165.8V131.7H146.5zM80.2 128.6H133.9V130.2H80.2zM146.5 128.6H167.1V130.2H146.5zM92.9 127.1H133.9V128.8H92.9zM146.5 127.1H173.4V128.8H146.5zM94.2 125.6H133.9V127.3H94.2zM146.5 125.6H173.4V127.3H146.5zM94.2 124.2H132.6V125.8H94.2zM147.8 124.2H174.7V125.8H147.8zM95.5 122.7H113.5V124.4H95.5zM151.6 122.7H174.7V124.4H151.6zM98.0 121.2H113.5V122.9H98.0zM151.6 121.2H174.7V122.9H151.6zM99.3 119.8H113.5V121.4H99.3zM151.6 119.8H190.0V121.4H151.6zM99.3 118.3H112.2V120.0H99.3zM151.6 118.3H190.0V120.0H151.6zM99.3 116.8H108.4V118.5H99.3zM151.6 116.8H188.7V118.5H151.6zM99.3 115.4H108.4V117.0H99.3zM151.6 115.4H187.5V117.0H151.6zM99.3 113.9H108.4V115.6H99.3zM147.8 113.9H186.2V115.6H147.8zM99.3 112.4H108.4V114.1H99.3zM146.5 112.4H186.2V114.1H146.5zM98.0 111.0H108.4V112.6H98.0zM146.5 111.0H187.5V112.6H146.5zM95.5 109.5H108.4V111.2H95.5zM143.9 109.5H147.9V111.2H143.9zM149.0 109.5H190.0V111.2H149.0zM94.2 108.0H108.4V109.7H94.2zM127.3 108.0H144.1V109.7H127.3zM150.3 108.0H191.3V109.7H150.3zM96.8 106.6H108.4V108.2H96.8zM126.1 106.6H140.3V108.2H126.1zM150.3 106.6H191.3V108.2H150.3zM105.7 105.1H108.4V106.8H105.7zM126.1 105.1H140.3V106.8H126.1zM151.6 105.1H191.3V106.8H151.6zM105.7 103.7H108.4V105.3H105.7zM126.1 103.7H140.3V105.3H126.1zM154.1 103.7H191.3V105.3H154.1zM105.7 102.2H108.4V103.9H105.7zM126.1 102.2H140.3V103.9H126.1zM155.4 102.2H191.3V103.9H155.4zM105.7 100.7H108.4V102.4H105.7zM126.1 100.7H140.3V102.4H126.1zM155.4 100.7H191.3V102.4H155.4zM105.7 99.3H108.4V100.9H105.7zM126.1 99.3H139.0V100.9H126.1zM155.4 99.3H191.3V100.9H155.4zM105.7 97.8H109.7V99.5H105.7zM124.8 97.8H136.5V99.5H124.8zM155.4 97.8H191.3V99.5H155.4zM105.7 96.3H135.2V98.0H105.7zM155.4 96.3H191.3V98.0H155.4zM105.7 94.9H109.7V96.5H105.7zM124.8 94.9H135.2V96.5H124.8zM155.4 94.9H191.3V96.5H155.4zM105.7 93.4H111.0V95.1H105.7zM126.1 93.4H133.9V95.1H126.1zM156.7 93.4H190.0V95.1H156.7zM105.7 91.9H113.5V93.6H105.7zM159.2 91.9H172.2V93.6H159.2zM174.5 91.9H187.5V93.6H174.5zM105.7 90.5H114.8V92.1H105.7zM160.5 90.5H170.9V92.1H160.5zM175.8 90.5H186.2V92.1H175.8zM105.7 89.0H114.8V90.7H105.7zM160.5 89.0H170.9V90.7H160.5zM175.8 89.0H186.2V90.7H175.8zM105.7 87.5H116.1V89.2H105.7zM161.8 87.5H170.9V89.2H161.8zM174.5 87.5H184.9V89.2H174.5zM105.7 86.1H118.6V87.7H105.7zM170.7 86.1H182.4V87.7H170.7zM101.8 84.6H119.9V86.3H101.8zM170.7 84.6H181.1V86.3H170.7zM100.6 83.1H119.9V84.8H100.6zM170.7 83.1H181.1V84.8H170.7zM100.6 81.7H119.9V83.3H100.6zM170.7 81.7H182.4V83.3H170.7zM100.6 80.2H119.9V81.9H100.6zM141.4 80.2H144.1V81.9H141.4zM170.7 80.2H184.9V81.9H170.7zM100.6 78.8H119.9V80.4H100.6zM140.1 78.8H145.4V80.4H140.1zM170.7 78.8H186.2V80.4H170.7zM99.3 77.3H119.9V78.9H99.3zM140.1 77.3H145.4V78.9H140.1zM170.7 77.3H186.2V78.9H170.7zM100.6 75.8H121.2V77.5H100.6zM140.1 75.8H144.1V77.5H140.1zM170.7 75.8H186.2V77.5H170.7zM108.2 74.4H123.7V76.0H108.2zM131.2 74.4H140.3V76.0H131.2zM170.7 74.4H186.2V76.0H170.7zM109.5 72.9H125.0V74.6H109.5zM129.9 72.9H140.3V74.6H129.9zM170.7 72.9H186.2V74.6H170.7zM109.5 71.4H125.0V73.1H109.5zM129.9 71.4H140.3V73.1H129.9zM170.7 71.4H186.2V73.1H170.7zM109.5 70.0H126.3V71.6H109.5zM129.9 70.0H139.0V71.6H129.9zM170.7 70.0H184.9V71.6H170.7zM109.5 68.5H130.1V70.2H109.5zM170.7 68.5H182.4V70.2H170.7zM109.5 67.0H130.1V68.7H109.5zM170.7 67.0H181.1V68.7H170.7zM110.8 65.6H130.1V67.2H110.8zM170.7 65.6H181.1V67.2H170.7zM115.9 64.1H131.4V65.8H115.9zM169.4 64.1H179.8V65.8H169.4zM123.5 62.6H133.9V64.3H123.5zM156.7 62.6H177.3V64.3H156.7zM124.8 61.2H135.2V62.8H124.8zM155.4 61.2H176.0V62.8H155.4zM124.8 59.7H135.2V61.4H124.8zM155.4 59.7H176.0V61.4H155.4zM126.1 58.2H136.5V59.9H126.1zM154.1 58.2H174.7V59.9H154.1zM128.6 56.8H172.2V58.4H128.6zM129.9 55.3H170.9V57.0H129.9zM129.9 53.8H170.9V55.5H129.9zM129.9 52.4H169.6V54.0H129.9zM129.9 50.9H156.9V52.6H129.9zM129.9 49.5H155.6V51.1H129.9zM129.9 48.0H155.6V49.7H129.9zM129.9 46.5H154.3V48.2H129.9zM129.9 45.1H136.5V46.7H129.9zM129.9 43.6H135.2V45.3H129.9zM129.9 42.1H135.2V43.8H129.9zM131.2 40.7H133.9V42.3H131.2z" fill="#4472b8"/>
<path d="M147.8 109.5H149.2V111.2H147.8zM143.9 108.0H150.5V109.7H143.9zM140.1 106.6H150.5V108.2H140.1zM140.1 105.1H151.8V106.8H140.1zM140.1 103.7H154.3V105.3H140.1zM140.1 102.2H155.6V103.9H140.1zM140.1 100.7H155.6V102.4H140.1zM138.8 99.3H155.6V100.9H138.8zM136.3 97.8H155.6V99.5H136.3zM135.0 96.3H155.6V98.0H135.0zM109.5 94.9H125.0V96.5H109.5zM135.0 94.9H155.6V96.5H135.0zM110.8 93.4H126.3V95.1H110.8zM133.7 93.4H156.9V95.1H133.7zM113.3 91.9H159.4V93.6H113.3zM172.0 91.9H174.7V93.6H172.0zM114.6 90.5H160.7V92.1H114.6zM170.7 90.5H176.0V92.1H170.7zM114.6 89.0H160.7V90.7H114.6zM170.7 89.0H176.0V90.7H170.7zM115.9 87.5H162.0V89.2H115.9zM170.7 87.5H174.7V89.2H170.7zM118.4 86.1H170.9V87.7H118.4zM119.7 84.6H170.9V86.3H119.7zM119.7 83.1H170.9V84.8H119.7zM119.7 81.7H170.9V83.3H119.7zM119.7 80.2H141.6V81.9H119.7zM143.9 80.2H170.9V81.9H143.9zM119.7 78.8H140.3V80.4H119.7zM145.2 78.8H170.9V80.4H145.2zM119.7 77.3H140.3V78.9H119.7zM145.2 77.3H170.9V78.9H145.2zM121.0 75.8H140.3V77.5H121.0zM143.9 75.8H170.9V77.5H143.9zM123.5 74.4H131.4V76.0H123.5zM140.1 74.4H170.9V76.0H140.1zM124.8 72.9H130.1V74.6H124.8zM140.1 72.9H170.9V74.6H140.1zM124.8 71.4H130.1V73.1H124.8zM140.1 71.4H170.9V73.1H140.1zM126.1 70.0H130.1V71.6H126.1zM138.8 70.0H170.9V71.6H138.8zM129.9 68.5H170.9V70.2H129.9zM129.9 67.0H170.9V68.7H129.9zM129.9 65.6H170.9V67.2H129.9zM131.2 64.1H169.6V65.8H131.2zM133.7 62.6H156.9V64.3H133.7zM135.0 61.2H155.6V62.8H135.0zM135.0 59.7H155.6V61.4H135.0zM136.3 58.2H154.3V59.9H136.3z" fill="#2c2f92"/>
<polygon points="40.8,99.4 46.5,96.6 48.1,93.6 50.8,90.7 52.8,89.3 52.2,88.5 54.8,87.0 59.5,85.4 62.7,83.7 64.7,82.4 64.7,81.2 65.3,79.9 64.2,78.7 63.9,77.1 64.7,75.3 66.1,74.3 67.3,73.6 69.3,72.7 71.3,73.3 72.9,73.7 74.2,73.6 75.8,74.2 77.0,74.9 78.6,75.3 79.8,75.7 82.1,75.0 82.6,74.2 84.2,72.7 85.5,71.8 86.6,71.3 88.1,71.1 89.4,70.8 91.6,68.3 93.9,67.7 95.5,68.0 98.5,69.5 99.9,70.1 100.7,70.8 101.0,72.7 101.9,74.7 101.9,76.3 103.5,77.4 104.5,78.3 105.5,79.2 107.6,80.1 108.6,81.3 110.6,83.0 112.8,85.0 115.0,86.3 117.6,86.4 119.3,87.3 120.1,88.5 121.1,88.6 121.6,90.0 123.7,89.6 124.8,91.4 126.4,93.3 128.1,93.1 128.7,94.1 130.2,97.3 130.5,99.7 131.0,100.5 129.5,101.2 129.2,102.6 128.2,104.6 128.7,105.7 130.3,105.6 132.0,103.5 132.8,101.2 135.8,98.9 135.9,97.0 134.6,96.4 132.5,95.1 133.1,92.9 136.3,90.7 138.7,91.7 140.1,93.2 142.0,94.7 142.7,92.6 139.9,89.7 136.6,87.9 134.4,86.9 131.4,85.8 129.6,83.9 130.9,82.5 129.5,82.2 124.9,81.8 123.4,81.1 120.9,79.1 119.2,76.2 117.2,72.3 114.2,70.6 112.5,69.7 111.0,67.6 112.1,64.5 111.0,62.9 111.3,61.6 112.9,61.3 115.2,60.4 117.4,59.5 118.6,60.4 118.4,61.0 117.4,61.7 117.8,62.9 118.0,63.7 119.0,65.0 119.5,65.4 120.6,63.7 121.3,62.2 122.0,62.3 123.3,63.2 124.4,64.2 125.4,66.5 126.1,69.4 129.5,71.6 131.3,72.9 132.2,72.9 135.2,74.2 137.3,75.6 138.7,76.8 140.7,78.0 143.0,79.1 144.1,79.3 144.5,80.1 145.8,81.3 146.3,82.2 147.6,83.0 147.6,85.8 147.6,87.6 147.3,89.1 147.8,90.7 147.3,91.7 149.1,92.9 150.4,94.3 151.8,96.4 152.4,97.7 154.2,99.6 155.5,101.7 157.6,103.1 159.2,103.8 161.6,104.0 165.2,105.2 162.6,104.6 159.2,104.3 157.0,104.3 156.3,105.6 157.5,107.2 158.9,109.6 159.1,112.1 160.4,112.3 161.2,111.0 162.5,112.5 163.0,114.7 163.7,112.3 165.2,113.4 166.7,114.4 166.0,112.9 165.2,110.5 164.7,107.7 166.2,108.4 167.0,108.9 166.5,107.4 165.3,105.6 167.2,105.5 168.9,105.6 169.3,106.4 170.9,107.3 171.1,105.5 170.8,104.3 168.8,102.6 167.2,101.7 165.2,100.2 163.7,100.1 165.2,98.8 165.4,97.3 167.2,98.5 165.7,96.4 164.7,94.7 163.7,92.9 163.7,91.9 165.4,89.7 166.2,91.7 167.7,93.8 168.2,92.3 169.3,93.8 170.3,91.7 172.8,92.6 170.3,90.6 169.3,89.6 172.9,88.0 174.9,88.5 178.4,87.9 180.3,88.5 181.4,89.3 182.0,90.3 184.6,90.9 182.3,93.2 182.0,94.7 181.4,96.5 183.5,96.1 186.1,96.0 184.6,97.6 185.6,98.9 185.8,99.9 184.8,101.3 186.1,102.6 183.5,101.7 182.5,103.3 184.1,104.0 187.4,106.0 187.5,108.9 188.2,110.9 190.2,111.3 188.1,112.8 192.6,112.0 195.3,112.8 196.8,113.3 199.6,115.8 202.4,115.2 204.2,113.4 205.0,111.8 208.5,112.4 211.6,113.8 213.1,115.4 215.8,116.8 219.2,116.1 221.4,114.8 225.0,112.3 226.9,112.4 228.8,113.7 231.0,112.4 232.9,113.5 231.5,115.8 231.6,116.5 230.9,119.8 231.7,121.7 231.4,123.4 231.2,126.1 230.2,128.0 229.4,129.2 228.8,131.2 227.9,132.9 226.8,135.6 226.1,138.4 225.7,139.9 225.1,141.6 224.1,143.3 223.0,144.5 220.8,145.5 217.7,145.8 213.1,144.7 210.7,143.2 209.0,143.3 206.5,143.0 203.4,143.6 201.8,144.4 200.9,145.1 197.8,146.5 196.0,147.2 192.7,145.9 187.3,144.2 183.5,143.6 180.6,142.7 176.7,142.9 176.4,141.8 170.6,139.9 167.2,139.2 163.9,135.9 161.6,135.1 159.1,135.1 157.0,135.7 155.2,136.2 153.3,137.3 150.8,139.7 150.1,142.1 150.7,145.1 149.9,147.4 148.3,149.7 146.3,150.5 143.1,149.2 140.2,147.4 137.6,146.5 133.0,145.1 130.0,144.5 127.4,142.1 125.4,138.2 122.9,136.9 121.1,136.6 117.8,135.7 115.6,135.1 112.1,135.7 110.0,134.9 107.6,133.9 105.5,133.3 105.0,131.6 104.0,129.8 101.9,130.7 99.9,129.3 100.4,127.5 103.3,124.3 105.0,121.6 104.8,119.9 103.6,118.3 102.7,117.9 102.5,114.7 103.2,114.3 104.5,112.3 104.8,110.6 103.5,111.4 102.5,112.0 100.9,112.3 100.4,109.9 98.7,109.5 98.6,109.0 95.3,109.9 93.1,111.4 90.7,111.4 88.0,111.7 85.6,110.6 83.6,111.8 80.5,110.5 79.0,111.7 77.8,112.1 74.3,112.5 71.3,111.7 68.3,111.5 65.7,112.3 64.0,112.4 61.7,113.4 60.9,113.4 59.6,113.4 56.6,114.0 55.0,113.9 51.5,115.8 48.9,117.4 46.9,118.1 45.1,118.7 40.8,119.9" fill="#fff"/>
<polygon points="189.2,88.5 191.7,86.2 195.8,85.9 196.8,87.3 194.8,89.1 191.2,89.4 189.2,88.5" fill="#fff"/>
<polygon points="196.8,86.5 199.4,86.6 202.9,86.5 205.0,87.1 208.6,86.0 210.6,85.0 213.1,83.5 216.7,82.4 220.6,81.9 225.4,82.1 227.7,81.7 229.4,83.5 231.5,83.2 233.7,85.9 235.6,85.6 238.5,86.9 241.6,87.6 244.2,88.1 251.0,87.6 255.1,87.5 257.5,85.9 259.6,85.3 260.8,83.9 260.9,80.9 260.6,78.8 257.5,75.9 253.9,74.2 251.0,72.4 247.7,69.5 242.6,66.8 241.0,65.8 238.7,64.8 236.6,63.6 235.1,63.0 234.0,63.9 228.8,64.0 226.7,65.1 223.9,66.1 222.7,67.1 220.8,67.8 219.4,66.5 219.5,65.1 218.6,63.1 216.2,62.4 214.1,62.1 215.7,61.3 217.2,59.2 220.3,57.8 216.7,58.0 216.2,57.8 211.6,56.6 209.0,55.1 209.3,54.7 205.1,55.5 203.4,57.8 202.4,58.9 199.9,61.3 199.7,63.3 197.3,65.4 194.5,69.1 194.2,71.1 193.6,73.8 190.8,74.7 190.7,76.5 189.8,77.9 188.5,78.8 189.7,80.0 190.4,80.8 191.2,82.4 191.7,83.9 194.3,85.6 196.8,86.5" fill="#fff"/>
<polygon points="235.1,62.4 234.0,61.6 229.4,62.4 226.9,62.1 225.9,58.9 225.9,57.3 228.4,56.0 232.0,54.8 236.0,53.9 239.9,51.9 246.8,51.2 248.8,52.2 244.7,54.2 243.6,54.2 242.2,56.0 243.1,58.0 240.2,60.7 239.0,62.6 236.6,62.4 235.1,62.4" fill="#fff"/>
<polygon points="313.6,52.5 306.5,56.0 302.9,57.8 299.8,61.3 297.3,65.4 297.5,70.1 299.3,74.2 302.9,76.5 313.6,78.8" fill="#fff"/>
<polygon points="214.4,152.3 214.7,154.4 215.4,156.8 217.1,161.8 219.2,165.0 220.9,168.2 221.5,171.3 223.2,175.0 226.4,181.0 229.3,187.6 230.5,191.4 234.0,197.8 236.6,203.7 238.1,216.6 254.9,216.6 250.9,208.9 248.2,201.9 246.8,196.0 243.7,189.6 242.5,186.7 239.6,182.6 238.5,181.1 234.3,174.2 231.5,170.3 230.5,167.6 227.9,163.8 226.1,162.1 225.9,159.1 226.9,154.9 226.4,155.0 225.1,158.0 224.5,160.9 223.5,164.4 223.1,165.4 220.8,163.2 219.8,162.4 217.7,158.5 215.2,153.0 214.4,152.3" fill="#fff"/>
<polygon points="293.1,155.8 291.7,155.9 293.2,158.0 295.2,160.9 295.7,161.3 297.8,166.2 301.6,169.7 303.4,172.0 304.4,174.4 313.6,181.4 313.6,149.2 304.2,151.8 301.4,152.1 298.3,150.3 295.7,152.4 294.2,153.3 293.1,155.8" fill="#fff"/>
<polygon points="45.9,30.5 48.4,30.3 49.9,30.4 51.5,29.9 53.4,29.6 54.0,29.0 55.4,28.2 55.8,26.8 53.0,26.4 51.5,26.0 53.2,24.9 54.9,23.5 56.5,22.7 57.3,20.4 57.2,19.4 55.0,17.7 50.9,17.6 49.9,18.5 49.2,17.6 50.1,16.5 49.0,13.9 47.9,13.2 45.9,13.2 45.9,2.7 156.5,2.7 156.0,1.5 155.5,3.8 155.0,5.6 150.4,5.9 147.8,8.8 143.5,9.4 144.3,7.9 142.2,7.1 137.9,7.1 134.3,8.1 127.9,10.4 123.4,11.5 121.1,11.9 119.8,11.2 117.2,8.5 115.2,9.7 110.1,10.4 106.8,12.0 104.0,11.8 105.0,8.8 100.2,9.5 99.4,7.9 96.5,6.9 97.4,5.6 97.9,2.7 92.3,2.7 90.7,5.6 92.3,8.5 92.3,9.7 93.5,10.7 92.8,12.2 91.8,13.8 89.7,14.4 90.2,13.2 85.1,13.2 85.1,15.3 85.1,15.9 83.1,14.7 79.0,15.0 74.9,15.3 72.6,17.6 71.9,20.2 71.6,20.8 70.2,22.6 69.3,23.3 67.3,24.9 66.2,25.8 66.6,26.5 65.2,27.0 63.3,27.7 60.5,28.7 57.8,29.3 56.5,29.8 56.6,30.7 56.6,32.6 56.6,33.7 55.5,34.5 53.9,35.3 50.3,36.3 48.9,37.9 49.4,38.2 49.6,38.3 48.4,39.0 45.9,39.0" fill="#fff"/>
<polygon points="96.3,75.9 96.7,77.1 96.6,78.3 97.1,81.2 96.3,83.5 95.1,85.4 93.8,84.7 92.9,82.2 92.3,80.0 93.0,78.4 94.8,77.5 95.8,77.7" fill="#ffffff"/>
<polygon points="95.3,85.3 96.8,87.6 97.9,91.7 97.4,96.4 97.1,98.5 94.8,98.2 93.5,99.9 91.2,99.4 91.2,95.3 91.8,93.5 90.7,90.3 90.2,87.3 93.3,86.5" fill="#67d2e3"/>
<polygon points="128.2,103.6 126.2,106.4 125.4,108.1 126.4,110.7 125.4,113.0 121.8,112.3 121.1,110.7 117.8,109.3 114.2,107.9 111.8,106.4 112.1,104.9 115.2,104.0 116.5,104.5 119.8,105.0 122.9,104.9 125.9,104.0" fill="#4472b8"/>
<polygon points="173.9,120.6 176.6,120.7 179.5,120.9 182.5,121.2 182.0,122.3 178.4,122.7 174.6,122.5" fill="#ffffff"/>
<polygon points="213.1,121.0 213.6,119.9 216.7,119.3 220.3,119.3 224.9,117.2 221.8,120.2 221.5,121.6 219.8,122.4 216.7,123.7 214.7,123.1 213.6,122.2" fill="#67d2e3"/>
<polygon points="60.4,96.1 62.2,94.1 64.7,93.8 64.2,95.0 66.0,95.6 65.0,97.3 63.4,97.3 62.4,96.4 61.4,96.7" fill="#a9d8e8"/>
<polygon points="67.8,93.5 69.3,93.1 70.3,94.4 68.8,94.1 67.8,93.9" fill="#a9d8e8"/>
<polygon points="54.5,99.7 55.8,98.8 56.6,99.4 55.5,100.2" fill="#ffffff"/>
<polygon points="164.7,100.2 166.7,99.4 168.2,100.5 171.3,101.7 173.6,104.3 172.3,104.9 168.8,102.9 166.2,101.4" fill="#4472b8"/>
<polygon points="189.7,116.1 192.2,114.3 192.5,115.2 190.2,117.5" fill="#ffffff"/>
<polygon points="180.2,97.6 182.8,97.0 184.1,99.1 181.0,99.1" fill="#67d2e3"/>
<polygon points="180.2,102.0 181.8,102.0 181.5,104.0 180.5,103.8" fill="#a9d8e8"/>
<polygon points="152.4,102.9 154.0,103.5 153.2,104.6 152.2,104.0" fill="#4472b8"/>
<polygon points="148.6,95.0 150.1,94.7 150.9,96.7 149.6,96.1" fill="#4472b8"/>
<polygon points="249.8,4.4 263.6,4.4 262.6,6.5 257.5,7.4 252.4,7.1" fill="#fee090"/>
<polygon points="167.7,101.7 173.9,101.7 173.9,105.2 174.6,105.2 174.6,111.7 172.1,111.7 172.1,108.7 169.3,108.7 169.3,107.0 167.7,105.8" fill="#4472b8"/>
<polygon points="161.1,105.2 163.7,105.8 164.2,108.7 162.1,108.7" fill="#67d2e3"/>
<polygon points="93.5,78.8 95.3,78.6 95.6,81.8 95.3,84.7 94.0,84.4 93.3,82.1" fill="#67d2e3"/>
<line x1="73.9" x2="73.9" y1="5.6" y2="210.7" stroke="#c8c8c8" stroke-width="0.5" stroke-dasharray="0.8,3.2"/>
<line x1="99.4" x2="99.4" y1="5.6" y2="210.7" stroke="#c8c8c8" stroke-width="0.5" stroke-dasharray="0.8,3.2"/>
<line x1="124.9" x2="124.9" y1="5.6" y2="210.7" stroke="#c8c8c8" stroke-width="0.5" stroke-dasharray="0.8,3.2"/>
<line x1="150.4" x2="150.4" y1="5.6" y2="210.7" stroke="#c8c8c8" stroke-width="0.5" stroke-dasharray="0.8,3.2"/>
<line x1="175.9" x2="175.9" y1="5.6" y2="210.7" stroke="#c8c8c8" stroke-width="0.5" stroke-dasharray="0.8,3.2"/>
<line x1="201.4" x2="201.4" y1="5.6" y2="210.7" stroke="#c8c8c8" stroke-width="0.5" stroke-dasharray="0.8,3.2"/>
<line x1="226.9" x2="226.9" y1="5.6" y2="210.7" stroke="#c8c8c8" stroke-width="0.5" stroke-dasharray="0.8,3.2"/>
<line x1="252.4" x2="252.4" y1="5.6" y2="210.7" stroke="#c8c8c8" stroke-width="0.5" stroke-dasharray="0.8,3.2"/>
<line x1="277.9" x2="277.9" y1="5.6" y2="210.7" stroke="#c8c8c8" stroke-width="0.5" stroke-dasharray="0.8,3.2"/>
<line x1="48.4" x2="303.4" y1="181.4" y2="181.4" stroke="#c8c8c8" stroke-width="0.5" stroke-dasharray="0.8,3.2"/>
<line x1="48.4" x2="303.4" y1="152.1" y2="152.1" stroke="#c8c8c8" stroke-width="0.5" stroke-dasharray="0.8,3.2"/>
<line x1="48.4" x2="303.4" y1="122.8" y2="122.8" stroke="#c8c8c8" stroke-width="0.5" stroke-dasharray="0.8,3.2"/>
<line x1="48.4" x2="303.4" y1="93.5" y2="93.5" stroke="#c8c8c8" stroke-width="0.5" stroke-dasharray="0.8,3.2"/>
<line x1="48.4" x2="303.4" y1="64.2" y2="64.2" stroke="#c8c8c8" stroke-width="0.5" stroke-dasharray="0.8,3.2"/>
<line x1="48.4" x2="303.4" y1="34.9" y2="34.9" stroke="#c8c8c8" stroke-width="0.5" stroke-dasharray="0.8,3.2"/>
<polygon points="40.8,99.4 46.5,96.6 48.1,93.6 50.8,90.7 52.8,89.3 52.2,88.5 54.8,87.0 59.5,85.4 62.7,83.7 64.7,82.4 64.7,81.2 65.3,79.9 64.2,78.7 63.9,77.1 64.7,75.3 66.1,74.3 67.3,73.6 69.3,72.7 71.3,73.3 72.9,73.7 74.2,73.6 75.8,74.2 77.0,74.9 78.6,75.3 79.8,75.7 82.1,75.0 82.6,74.2 84.2,72.7 85.5,71.8 86.6,71.3 88.1,71.1 89.4,70.8 91.6,68.3 93.9,67.7 95.5,68.0 98.5,69.5 99.9,70.1 100.7,70.8 101.0,72.7 101.9,74.7 101.9,76.3 103.5,77.4 104.5,78.3 105.5,79.2 107.6,80.1 108.6,81.3 110.6,83.0 112.8,85.0 115.0,86.3 117.6,86.4 119.3,87.3 120.1,88.5 121.1,88.6 121.6,90.0 123.7,89.6 124.8,91.4 126.4,93.3 128.1,93.1 128.7,94.1 130.2,97.3 130.5,99.7 131.0,100.5 129.5,101.2 129.2,102.6 128.2,104.6 128.7,105.7 130.3,105.6 132.0,103.5 132.8,101.2 135.8,98.9 135.9,97.0 134.6,96.4 132.5,95.1 133.1,92.9 136.3,90.7 138.7,91.7 140.1,93.2 142.0,94.7 142.7,92.6 139.9,89.7 136.6,87.9 134.4,86.9 131.4,85.8 129.6,83.9 130.9,82.5 129.5,82.2 124.9,81.8 123.4,81.1 120.9,79.1 119.2,76.2 117.2,72.3 114.2,70.6 112.5,69.7 111.0,67.6 112.1,64.5 111.0,62.9 111.3,61.6 112.9,61.3 115.2,60.4 117.4,59.5 118.6,60.4 118.4,61.0 117.4,61.7 117.8,62.9 118.0,63.7 119.0,65.0 119.5,65.4 120.6,63.7 121.3,62.2 122.0,62.3 123.3,63.2 124.4,64.2 125.4,66.5 126.1,69.4 129.5,71.6 131.3,72.9 132.2,72.9 135.2,74.2 137.3,75.6 138.7,76.8 140.7,78.0 143.0,79.1 144.1,79.3 144.5,80.1 145.8,81.3 146.3,82.2 147.6,83.0 147.6,85.8 147.6,87.6 147.3,89.1 147.8,90.7 147.3,91.7 149.1,92.9 150.4,94.3 151.8,96.4 152.4,97.7 154.2,99.6 155.5,101.7 157.6,103.1 159.2,103.8 161.6,104.0 165.2,105.2 162.6,104.6 159.2,104.3 157.0,104.3 156.3,105.6 157.5,107.2 158.9,109.6 159.1,112.1 160.4,112.3 161.2,111.0 162.5,112.5 163.0,114.7 163.7,112.3 165.2,113.4 166.7,114.4 166.0,112.9 165.2,110.5 164.7,107.7 166.2,108.4 167.0,108.9 166.5,107.4 165.3,105.6 167.2,105.5 168.9,105.6 169.3,106.4 170.9,107.3 171.1,105.5 170.8,104.3 168.8,102.6 167.2,101.7 165.2,100.2 163.7,100.1 165.2,98.8 165.4,97.3 167.2,98.5 165.7,96.4 164.7,94.7 163.7,92.9 163.7,91.9 165.4,89.7 166.2,91.7 167.7,93.8 168.2,92.3 169.3,93.8 170.3,91.7 172.8,92.6 170.3,90.6 169.3,89.6 172.9,88.0 174.9,88.5 178.4,87.9 180.3,88.5 181.4,89.3 182.0,90.3 184.6,90.9 182.3,93.2 182.0,94.7 181.4,96.5 183.5,96.1 186.1,96.0 184.6,97.6 185.6,98.9 185.8,99.9 184.8,101.3 186.1,102.6 183.5,101.7 182.5,103.3 184.1,104.0 187.4,106.0 187.5,108.9 188.2,110.9 190.2,111.3 188.1,112.8 192.6,112.0 195.3,112.8 196.8,113.3 199.6,115.8 202.4,115.2 204.2,113.4 205.0,111.8 208.5,112.4 211.6,113.8 213.1,115.4 215.8,116.8 219.2,116.1 221.4,114.8 225.0,112.3 226.9,112.4 228.8,113.7 231.0,112.4 232.9,113.5 231.5,115.8 231.6,116.5 230.9,119.8 231.7,121.7 231.4,123.4 231.2,126.1 230.2,128.0 229.4,129.2 228.8,131.2 227.9,132.9 226.8,135.6 226.1,138.4 225.7,139.9 225.1,141.6 224.1,143.3 223.0,144.5 220.8,145.5 217.7,145.8 213.1,144.7 210.7,143.2 209.0,143.3 206.5,143.0 203.4,143.6 201.8,144.4 200.9,145.1 197.8,146.5 196.0,147.2 192.7,145.9 187.3,144.2 183.5,143.6 180.6,142.7 176.7,142.9 176.4,141.8 170.6,139.9 167.2,139.2 163.9,135.9 161.6,135.1 159.1,135.1 157.0,135.7 155.2,136.2 153.3,137.3 150.8,139.7 150.1,142.1 150.7,145.1 149.9,147.4 148.3,149.7 146.3,150.5 143.1,149.2 140.2,147.4 137.6,146.5 133.0,145.1 130.0,144.5 127.4,142.1 125.4,138.2 122.9,136.9 121.1,136.6 117.8,135.7 115.6,135.1 112.1,135.7 110.0,134.9 107.6,133.9 105.5,133.3 105.0,131.6 104.0,129.8 101.9,130.7 99.9,129.3 100.4,127.5 103.3,124.3 105.0,121.6 104.8,119.9 103.6,118.3 102.7,117.9 102.5,114.7 103.2,114.3 104.5,112.3 104.8,110.6 103.5,111.4 102.5,112.0 100.9,112.3 100.4,109.9 98.7,109.5 98.6,109.0 95.3,109.9 93.1,111.4 90.7,111.4 88.0,111.7 85.6,110.6 83.6,111.8 80.5,110.5 79.0,111.7 77.8,112.1 74.3,112.5 71.3,111.7 68.3,111.5 65.7,112.3 64.0,112.4 61.7,113.4 60.9,113.4 59.6,113.4 56.6,114.0 55.0,113.9 51.5,115.8 48.9,117.4 46.9,118.1 45.1,118.7 40.8,119.9" fill="none" stroke="#505050" stroke-width="0.55" stroke-linejoin="round"/>
<polygon points="189.2,88.5 191.7,86.2 195.8,85.9 196.8,87.3 194.8,89.1 191.2,89.4 189.2,88.5" fill="none" stroke="#505050" stroke-width="0.55" stroke-linejoin="round"/>
<polygon points="196.8,86.5 199.4,86.6 202.9,86.5 205.0,87.1 208.6,86.0 210.6,85.0 213.1,83.5 216.7,82.4 220.6,81.9 225.4,82.1 227.7,81.7 229.4,83.5 231.5,83.2 233.7,85.9 235.6,85.6 238.5,86.9 241.6,87.6 244.2,88.1 251.0,87.6 255.1,87.5 257.5,85.9 259.6,85.3 260.8,83.9 260.9,80.9 260.6,78.8 257.5,75.9 253.9,74.2 251.0,72.4 247.7,69.5 242.6,66.8 241.0,65.8 238.7,64.8 236.6,63.6 235.1,63.0 234.0,63.9 228.8,64.0 226.7,65.1 223.9,66.1 222.7,67.1 220.8,67.8 219.4,66.5 219.5,65.1 218.6,63.1 216.2,62.4 214.1,62.1 215.7,61.3 217.2,59.2 220.3,57.8 216.7,58.0 216.2,57.8 211.6,56.6 209.0,55.1 209.3,54.7 205.1,55.5 203.4,57.8 202.4,58.9 199.9,61.3 199.7,63.3 197.3,65.4 194.5,69.1 194.2,71.1 193.6,73.8 190.8,74.7 190.7,76.5 189.8,77.9 188.5,78.8 189.7,80.0 190.4,80.8 191.2,82.4 191.7,83.9 194.3,85.6 196.8,86.5" fill="none" stroke="#505050" stroke-width="0.55" stroke-linejoin="round"/>
<polygon points="235.1,62.4 234.0,61.6 229.4,62.4 226.9,62.1 225.9,58.9 225.9,57.3 228.4,56.0 232.0,54.8 236.0,53.9 239.9,51.9 246.8,51.2 248.8,52.2 244.7,54.2 243.6,54.2 242.2,56.0 243.1,58.0 240.2,60.7 239.0,62.6 236.6,62.4 235.1,62.4" fill="none" stroke="#505050" stroke-width="0.55" stroke-linejoin="round"/>
<polygon points="313.6,52.5 306.5,56.0 302.9,57.8 299.8,61.3 297.3,65.4 297.5,70.1 299.3,74.2 302.9,76.5 313.6,78.8" fill="none" stroke="#505050" stroke-width="0.55" stroke-linejoin="round"/>
<polygon points="214.4,152.3 214.7,154.4 215.4,156.8 217.1,161.8 219.2,165.0 220.9,168.2 221.5,171.3 223.2,175.0 226.4,181.0 229.3,187.6 230.5,191.4 234.0,197.8 236.6,203.7 238.1,216.6 254.9,216.6 250.9,208.9 248.2,201.9 246.8,196.0 243.7,189.6 242.5,186.7 239.6,182.6 238.5,181.1 234.3,174.2 231.5,170.3 230.5,167.6 227.9,163.8 226.1,162.1 225.9,159.1 226.9,154.9 226.4,155.0 225.1,158.0 224.5,160.9 223.5,164.4 223.1,165.4 220.8,163.2 219.8,162.4 217.7,158.5 215.2,153.0 214.4,152.3" fill="none" stroke="#505050" stroke-width="0.55" stroke-linejoin="round"/>
<polygon points="293.1,155.8 291.7,155.9 293.2,158.0 295.2,160.9 295.7,161.3 297.8,166.2 301.6,169.7 303.4,172.0 304.4,174.4 313.6,181.4 313.6,149.2 304.2,151.8 301.4,152.1 298.3,150.3 295.7,152.4 294.2,153.3 293.1,155.8" fill="none" stroke="#505050" stroke-width="0.55" stroke-linejoin="round"/>
<polygon points="45.9,30.5 48.4,30.3 49.9,30.4 51.5,29.9 53.4,29.6 54.0,29.0 55.4,28.2 55.8,26.8 53.0,26.4 51.5,26.0 53.2,24.9 54.9,23.5 56.5,22.7 57.3,20.4 57.2,19.4 55.0,17.7 50.9,17.6 49.9,18.5 49.2,17.6 50.1,16.5 49.0,13.9 47.9,13.2 45.9,13.2 45.9,2.7 156.5,2.7 156.0,1.5 155.5,3.8 155.0,5.6 150.4,5.9 147.8,8.8 143.5,9.4 144.3,7.9 142.2,7.1 137.9,7.1 134.3,8.1 127.9,10.4 123.4,11.5 121.1,11.9 119.8,11.2 117.2,8.5 115.2,9.7 110.1,10.4 106.8,12.0 104.0,11.8 105.0,8.8 100.2,9.5 99.4,7.9 96.5,6.9 97.4,5.6 97.9,2.7 92.3,2.7 90.7,5.6 92.3,8.5 92.3,9.7 93.5,10.7 92.8,12.2 91.8,13.8 89.7,14.4 90.2,13.2 85.1,13.2 85.1,15.3 85.1,15.9 83.1,14.7 79.0,15.0 74.9,15.3 72.6,17.6 71.9,20.2 71.6,20.8 70.2,22.6 69.3,23.3 67.3,24.9 66.2,25.8 66.6,26.5 65.2,27.0 63.3,27.7 60.5,28.7 57.8,29.3 56.5,29.8 56.6,30.7 56.6,32.6 56.6,33.7 55.5,34.5 53.9,35.3 50.3,36.3 48.9,37.9 49.4,38.2 49.6,38.3 48.4,39.0 45.9,39.0" fill="none" stroke="#505050" stroke-width="0.55" stroke-linejoin="round"/>
<polygon points="96.3,75.9 96.7,77.1 96.6,78.3 97.1,81.2 96.3,83.5 95.1,85.4 93.8,84.7 92.9,82.2 92.3,80.0 93.0,78.4 94.8,77.5 95.8,77.7" fill="none" stroke="#505050" stroke-width="0.55" stroke-linejoin="round"/>
<polygon points="95.3,85.3 96.8,87.6 97.9,91.7 97.4,96.4 97.1,98.5 94.8,98.2 93.5,99.9 91.2,99.4 91.2,95.3 91.8,93.5 90.7,90.3 90.2,87.3 93.3,86.5" fill="none" stroke="#505050" stroke-width="0.55" stroke-linejoin="round"/>
<polygon points="128.2,103.6 126.2,106.4 125.4,108.1 126.4,110.7 125.4,113.0 121.8,112.3 121.1,110.7 117.8,109.3 114.2,107.9 111.8,106.4 112.1,104.9 115.2,104.0 116.5,104.5 119.8,105.0 122.9,104.9 125.9,104.0" fill="none" stroke="#505050" stroke-width="0.55" stroke-linejoin="round"/>
<polygon points="173.9,120.6 176.6,120.7 179.5,120.9 182.5,121.2 182.0,122.3 178.4,122.7 174.6,122.5" fill="none" stroke="#505050" stroke-width="0.55" stroke-linejoin="round"/>
<polygon points="213.1,121.0 213.6,119.9 216.7,119.3 220.3,119.3 224.9,117.2 221.8,120.2 221.5,121.6 219.8,122.4 216.7,123.7 214.7,123.1 213.6,122.2" fill="none" stroke="#505050" stroke-width="0.55" stroke-linejoin="round"/>
<polygon points="60.4,96.1 62.2,94.1 64.7,93.8 64.2,95.0 66.0,95.6 65.0,97.3 63.4,97.3 62.4,96.4 61.4,96.7" fill="none" stroke="#505050" stroke-width="0.55" stroke-linejoin="round"/>
<polygon points="67.8,93.5 69.3,93.1 70.3,94.4 68.8,94.1 67.8,93.9" fill="none" stroke="#505050" stroke-width="0.55" stroke-linejoin="round"/>
<polygon points="54.5,99.7 55.8,98.8 56.6,99.4 55.5,100.2" fill="none" stroke="#505050" stroke-width="0.55" stroke-linejoin="round"/>
<polygon points="164.7,100.2 166.7,99.4 168.2,100.5 171.3,101.7 173.6,104.3 172.3,104.9 168.8,102.9 166.2,101.4" fill="none" stroke="#505050" stroke-width="0.55" stroke-linejoin="round"/>
<polygon points="189.7,116.1 192.2,114.3 192.5,115.2 190.2,117.5" fill="none" stroke="#505050" stroke-width="0.55" stroke-linejoin="round"/>
<polygon points="180.2,97.6 182.8,97.0 184.1,99.1 181.0,99.1" fill="none" stroke="#505050" stroke-width="0.55" stroke-linejoin="round"/>
<polygon points="180.2,102.0 181.8,102.0 181.5,104.0 180.5,103.8" fill="none" stroke="#505050" stroke-width="0.55" stroke-linejoin="round"/>
<polygon points="152.4,102.9 154.0,103.5 153.2,104.6 152.2,104.0" fill="none" stroke="#505050" stroke-width="0.55" stroke-linejoin="round"/>
<polygon points="148.6,95.0 150.1,94.7 150.9,96.7 149.6,96.1" fill="none" stroke="#505050" stroke-width="0.55" stroke-linejoin="round"/>
<polyline points="45.9,77.1 52.0,76.8 55.8,78.3 57.2,78.8 61.1,79.7 64.6,79.3" fill="none" stroke="#505050" stroke-width="0.5" stroke-linejoin="round"/>
<polyline points="61.4,28.5 63.2,30.8 65.2,32.0 69.8,34.9 72.9,34.0 73.4,36.1 76.4,37.8" fill="none" stroke="#505050" stroke-width="0.5" stroke-linejoin="round"/>
<polyline points="76.4,37.8 79.5,38.1 81.0,38.1 84.1,39.9 87.2,40.5 90.2,40.9 88.2,43.7 86.9,47.2 87.2,49.1" fill="none" stroke="#505050" stroke-width="0.5" stroke-linejoin="round"/>
<polyline points="65.7,27.0 70.3,26.7 74.4,26.4 78.0,28.2 77.5,30.5" fill="none" stroke="#505050" stroke-width="0.5" stroke-linejoin="round"/>
<polyline points="77.5,30.5 79.5,31.4 81.0,33.1 79.5,34.3 78.0,37.5 76.4,37.8" fill="none" stroke="#505050" stroke-width="0.5" stroke-linejoin="round"/>
<polyline points="85.1,15.9 84.4,19.7 82.6,20.5 83.6,22.0 79.0,24.4 80.0,26.7 78.5,29.0 79.0,30.5 77.5,30.5" fill="none" stroke="#505050" stroke-width="0.5" stroke-linejoin="round"/>
<polyline points="87.2,49.1 84.1,50.1 81.5,52.8 79.5,54.8 80.0,56.6 83.1,56.0 84.1,58.9 83.1,60.1 84.6,62.7 82.1,63.6 84.1,66.0 83.6,67.7 86.6,71.3" fill="none" stroke="#505050" stroke-width="0.5" stroke-linejoin="round"/>
<polyline points="87.2,49.1 92.3,48.7 96.8,49.3 97.4,52.2 101.7,53.1 99.9,56.9 94.3,59.2 91.2,55.7 84.1,58.9" fill="none" stroke="#505050" stroke-width="0.5" stroke-linejoin="round"/>
<polyline points="97.4,49.3 101.9,49.6 105.0,50.1 110.6,48.7 114.7,49.6 114.2,46.9 117.2,43.4 118.8,42.2" fill="none" stroke="#505050" stroke-width="0.5" stroke-linejoin="round"/>
<polyline points="101.7,53.1 105.5,52.8 110.6,52.2 118.3,55.3 122.3,55.8 128.5,54.2 130.5,53.4 132.5,52.5" fill="none" stroke="#505050" stroke-width="0.5" stroke-linejoin="round"/>
<polyline points="118.3,55.3 117.2,57.2 118.3,59.8 117.8,60.7" fill="none" stroke="#505050" stroke-width="0.5" stroke-linejoin="round"/>
<polyline points="117.8,61.4 120.8,61.3 125.9,61.6 128.0,59.2 128.5,57.2 131.5,56.0 133.1,55.6" fill="none" stroke="#505050" stroke-width="0.5" stroke-linejoin="round"/>
<polyline points="92.3,6.2 96.3,6.8" fill="none" stroke="#505050" stroke-width="0.5" stroke-linejoin="round"/>
<polyline points="120.8,12.0 121.8,15.6 122.9,19.7 123.4,22.6 124.6,26.4 124.9,29.0" fill="none" stroke="#505050" stroke-width="0.5" stroke-linejoin="round"/>
<polyline points="110.1,33.1 112.1,32.6 116.7,31.1 121.3,29.6 123.9,29.9 124.9,29.0" fill="none" stroke="#505050" stroke-width="0.5" stroke-linejoin="round"/>
<polyline points="110.1,33.1 112.1,36.1 113.7,39.0 118.8,42.2" fill="none" stroke="#505050" stroke-width="0.5" stroke-linejoin="round"/>
<polyline points="118.8,42.2 123.4,43.1 124.9,40.8 130.0,42.2 134.6,43.1" fill="none" stroke="#505050" stroke-width="0.5" stroke-linejoin="round"/>
<polyline points="124.9,29.0 127.4,30.2 131.5,30.8 131.0,32.6 134.6,32.3 138.7,34.3 141.7,35.2 144.5,37.8" fill="none" stroke="#505050" stroke-width="0.5" stroke-linejoin="round"/>
<polyline points="134.6,43.1 137.1,41.9 139.7,41.1 142.2,38.7 144.5,37.8" fill="none" stroke="#505050" stroke-width="0.5" stroke-linejoin="round"/>
<polyline points="134.6,43.1 135.6,46.6 132.5,48.4 133.1,50.1 132.5,52.5" fill="none" stroke="#505050" stroke-width="0.5" stroke-linejoin="round"/>
<polyline points="144.5,37.8 147.8,37.2 151.4,38.7 155.5,38.4 159.6,38.4 163.4,40.3" fill="none" stroke="#505050" stroke-width="0.5" stroke-linejoin="round"/>
<polyline points="135.6,46.6 138.7,48.1 143.8,47.8 144.8,46.3 147.8,45.4 151.9,45.0 154.5,43.4 158.6,43.7 161.4,44.3" fill="none" stroke="#505050" stroke-width="0.5" stroke-linejoin="round"/>
<polyline points="163.4,40.3 161.4,44.3 165.2,46.9" fill="none" stroke="#505050" stroke-width="0.5" stroke-linejoin="round"/>
<polyline points="163.4,40.3 164.2,37.2 168.2,32.6 171.3,29.9 168.8,26.1" fill="none" stroke="#505050" stroke-width="0.5" stroke-linejoin="round"/>
<polyline points="168.8,26.1 168.2,22.0 170.3,19.1 168.2,14.4 170.3,11.8" fill="none" stroke="#505050" stroke-width="0.5" stroke-linejoin="round"/>
<polyline points="170.3,11.8 164.7,9.4 164.2,9.1 155.5,9.4 148.4,8.8" fill="none" stroke="#505050" stroke-width="0.5" stroke-linejoin="round"/>
<polyline points="164.7,9.4 164.7,6.2 157.5,4.4 156.5,3.8" fill="none" stroke="#505050" stroke-width="0.5" stroke-linejoin="round"/>
<polyline points="170.3,11.8 175.9,10.6 180.0,9.7 178.4,6.8 184.1,4.4" fill="none" stroke="#505050" stroke-width="0.5" stroke-linejoin="round"/>
<polyline points="168.8,26.1 172.8,23.8 178.4,23.8 187.1,25.5 192.7,25.5 197.8,26.7 202.9,27.3 204.5,25.5 206.0,22.9 210.6,22.6" fill="none" stroke="#505050" stroke-width="0.5" stroke-linejoin="round"/>
<polyline points="210.6,22.6 209.0,19.1 213.1,16.7 211.1,12.6 205.5,6.8 206.0,2.1" fill="none" stroke="#505050" stroke-width="0.5" stroke-linejoin="round"/>
<polyline points="210.6,22.6 216.7,21.1 222.3,23.2 223.8,27.3 228.9,28.7 231.5,32.0 235.1,33.4 239.1,32.6 242.7,34.9 243.7,35.5 248.3,37.2 252.9,37.2 252.4,40.8 250.9,43.1 251.9,45.4 250.9,47.8 246.3,47.8 243.2,50.7 243.2,51.9" fill="none" stroke="#505050" stroke-width="0.5" stroke-linejoin="round"/>
<polyline points="165.2,46.9 160.6,50.1 157.0,54.8 151.9,57.8" fill="none" stroke="#505050" stroke-width="0.5" stroke-linejoin="round"/>
<polyline points="151.9,57.8 147.8,57.5 144.8,58.9" fill="none" stroke="#505050" stroke-width="0.5" stroke-linejoin="round"/>
<polyline points="144.8,58.9 140.2,59.5 136.6,58.6 134.6,56.3 133.1,55.6 130.5,53.4" fill="none" stroke="#505050" stroke-width="0.5" stroke-linejoin="round"/>
<polyline points="165.2,46.9 168.2,46.6 175.4,48.4 182.0,46.6 184.1,45.2 188.1,44.3 192.2,45.4 196.3,49.6 197.3,52.5 201.9,56.0 200.9,58.3 195.8,58.3 192.2,61.3" fill="none" stroke="#505050" stroke-width="0.5" stroke-linejoin="round"/>
<polyline points="184.1,45.2 187.6,48.7 191.7,52.8 192.2,57.2 192.2,61.3 199.7,63.0" fill="none" stroke="#505050" stroke-width="0.5" stroke-linejoin="round"/>
<polyline points="151.9,57.8 154.5,59.8 157.5,63.0 160.6,66.5 164.2,67.1 162.9,70.1" fill="none" stroke="#505050" stroke-width="0.5" stroke-linejoin="round"/>
<polyline points="162.9,70.1 165.7,71.2 170.8,71.8 178.4,72.1 183.5,70.1 187.6,69.5 190.7,70.6 194.2,71.5" fill="none" stroke="#505050" stroke-width="0.5" stroke-linejoin="round"/>
<polyline points="162.9,70.1 164.2,73.6 165.7,75.9 162.6,80.0" fill="none" stroke="#505050" stroke-width="0.5" stroke-linejoin="round"/>
<polyline points="162.6,80.0 158.6,80.3 153.5,82.7" fill="none" stroke="#505050" stroke-width="0.5" stroke-linejoin="round"/>
<polyline points="144.8,58.9 145.3,61.9 147.3,63.0 145.8,64.8" fill="none" stroke="#505050" stroke-width="0.5" stroke-linejoin="round"/>
<polyline points="128.5,63.0 132.5,63.0 137.6,63.6 142.7,63.9 145.8,64.8" fill="none" stroke="#505050" stroke-width="0.5" stroke-linejoin="round"/>
<polyline points="128.5,63.0 129.0,66.0 131.0,68.9 135.1,72.4 138.2,75.3 142.7,79.1" fill="none" stroke="#505050" stroke-width="0.5" stroke-linejoin="round"/>
<polyline points="145.8,64.8 147.1,68.9 147.8,72.4 143.8,74.7 142.7,79.1" fill="none" stroke="#505050" stroke-width="0.5" stroke-linejoin="round"/>
<polyline points="147.8,72.4 151.9,76.5 153.5,82.7" fill="none" stroke="#505050" stroke-width="0.5" stroke-linejoin="round"/>
<polyline points="142.7,79.1 146.3,78.3 149.4,78.8 150.9,78.6 151.9,76.5" fill="none" stroke="#505050" stroke-width="0.5" stroke-linejoin="round"/>
<polyline points="147.3,82.4 148.4,78.8" fill="none" stroke="#505050" stroke-width="0.5" stroke-linejoin="round"/>
<polyline points="153.5,82.7 152.9,85.9 154.0,88.2 155.5,90.0" fill="none" stroke="#505050" stroke-width="0.5" stroke-linejoin="round"/>
<polyline points="155.5,90.0 154.0,92.9 150.9,95.6 150.4,95.3" fill="none" stroke="#505050" stroke-width="0.5" stroke-linejoin="round"/>
<polyline points="155.5,90.0 159.6,87.9 164.2,86.8 165.7,85.6" fill="none" stroke="#505050" stroke-width="0.5" stroke-linejoin="round"/>
<polyline points="162.6,80.0 165.7,85.6" fill="none" stroke="#505050" stroke-width="0.5" stroke-linejoin="round"/>
<polyline points="165.7,85.6 170.8,84.7 175.9,85.6 182.0,83.5 184.1,85.6 182.5,88.2 181.4,89.3" fill="none" stroke="#505050" stroke-width="0.5" stroke-linejoin="round"/>
<polyline points="182.0,83.5 186.1,81.8 191.2,82.0" fill="none" stroke="#505050" stroke-width="0.5" stroke-linejoin="round"/>
<polyline points="260.0,84.7 265.1,85.0 269.7,86.5 271.3,89.4 270.8,92.9 274.8,93.5 276.9,95.3 273.8,99.4 274.8,103.5 274.3,108.1 276.9,109.9" fill="none" stroke="#505050" stroke-width="0.5" stroke-linejoin="round"/>
<polyline points="276.9,109.9 269.7,109.3 264.6,110.5 258.5,110.5 252.4,112.3 245.8,112.8 242.2,112.0 237.1,112.8 235.1,112.3 235.6,115.8 234.0,115.8 231.7,117.5" fill="none" stroke="#505050" stroke-width="0.5" stroke-linejoin="round"/>
<polyline points="251.9,73.3 260.0,74.5 265.1,74.7 270.2,76.8 275.9,77.4 281.0,78.6 285.5,82.7" fill="none" stroke="#505050" stroke-width="0.5" stroke-linejoin="round"/>
<polyline points="269.7,86.5 277.4,86.5 281.0,87.1 285.5,87.3 285.5,82.7" fill="none" stroke="#505050" stroke-width="0.5" stroke-linejoin="round"/>
<polyline points="281.0,87.1 279.4,88.8 281.5,91.2 282.5,93.5 285.5,95.8 285.5,99.9" fill="none" stroke="#505050" stroke-width="0.5" stroke-linejoin="round"/>
<polyline points="276.9,95.3 280.4,96.4 285.5,99.9 292.7,95.8 294.7,97.6 293.2,99.9 297.8,102.9" fill="none" stroke="#505050" stroke-width="0.5" stroke-linejoin="round"/>
<polyline points="285.5,82.7 291.2,84.7 295.7,81.8 300.8,77.7 302.9,76.5" fill="none" stroke="#505050" stroke-width="0.5" stroke-linejoin="round"/>
<polyline points="276.9,109.9 280.4,115.2 283.0,118.1 280.4,122.8 283.0,127.5 281.5,131.0 286.6,134.5 290.6,139.2 292.7,146.2 293.2,149.2 295.7,152.4" fill="none" stroke="#505050" stroke-width="0.5" stroke-linejoin="round"/>
<polyline points="264.6,110.5 261.6,113.4 259.0,116.4 257.5,126.3 246.3,132.2" fill="none" stroke="#505050" stroke-width="0.5" stroke-linejoin="round"/>
<polyline points="246.3,132.2 248.3,139.2" fill="none" stroke="#505050" stroke-width="0.5" stroke-linejoin="round"/>
<polyline points="248.3,139.2 254.4,141.0 262.6,145.7 276.4,156.8 285.5,157.4 291.7,160.9 295.2,160.9" fill="none" stroke="#505050" stroke-width="0.5" stroke-linejoin="round"/>
<polyline points="285.5,157.4 290.1,152.1 293.2,152.1" fill="none" stroke="#505050" stroke-width="0.5" stroke-linejoin="round"/>
<polyline points="246.3,132.2 236.1,138.6 231.0,136.3" fill="none" stroke="#505050" stroke-width="0.5" stroke-linejoin="round"/>
<polyline points="231.7,124.9 234.0,125.1 235.1,127.5 231.5,132.2 230.0,133.9 227.4,133.9" fill="none" stroke="#505050" stroke-width="0.5" stroke-linejoin="round"/>
<polyline points="230.0,133.9 230.0,137.4 229.4,141.6 228.9,146.2 226.9,154.7" fill="none" stroke="#505050" stroke-width="0.5" stroke-linejoin="round"/>
<polyline points="223.0,144.5 226.4,155.0" fill="none" stroke="#505050" stroke-width="0.5" stroke-linejoin="round"/>
<polyline points="226.9,155.9 234.5,155.0 239.6,152.1 242.2,149.2 237.1,143.3 248.3,139.2" fill="none" stroke="#505050" stroke-width="0.5" stroke-linejoin="round"/>
<polyline points="176.7,142.9 175.4,149.2 175.9,158.0 175.9,199.0" fill="none" stroke="#505050" stroke-width="0.5" stroke-linejoin="round"/>
<polyline points="175.9,199.0 208.5,199.0 209.0,197.8 211.6,199.0 236.6,199.0" fill="none" stroke="#505050" stroke-width="0.5" stroke-linejoin="round"/>
<polyline points="175.9,199.0 175.9,210.7 170.8,213.6" fill="none" stroke="#505050" stroke-width="0.5" stroke-linejoin="round"/>
<polyline points="170.8,210.7 170.8,213.6" fill="none" stroke="#505050" stroke-width="0.5" stroke-linejoin="round"/>
<polyline points="170.3,213.0 147.8,201.9 129.9,190.5" fill="none" stroke="#505050" stroke-width="0.5" stroke-linejoin="round"/>
<polyline points="124.9,193.1 125.4,199.0 126.9,203.7 129.0,208.9 130.0,211.9" fill="none" stroke="#505050" stroke-width="0.5" stroke-linejoin="round"/>
<polyline points="129.9,190.5 124.8,193.1 120.8,195.5 117.2,192.5 109.6,190.2 107.6,187.3" fill="none" stroke="#505050" stroke-width="0.5" stroke-linejoin="round"/>
<polyline points="107.6,187.3 100.9,184.3 99.4,179.6 96.3,174.4 98.9,169.7 98.4,163.8 98.9,155.0 96.8,150.3 100.9,146.2 99.9,142.7 107.0,138.0 107.0,133.3" fill="none" stroke="#505050" stroke-width="0.5" stroke-linejoin="round"/>
<polyline points="96.8,150.3 90.7,137.4 90.7,132.2 86.6,128.1 90.7,125.1 90.2,121.6 91.2,117.5 92.3,111.4" fill="none" stroke="#505050" stroke-width="0.5" stroke-linejoin="round"/>
<polyline points="107.6,187.3 86.6,205.4 78.0,213.9" fill="none" stroke="#505050" stroke-width="0.5" stroke-linejoin="round"/>
<polyline points="78.0,213.9 69.8,215.4 64.7,216.0 54.5,210.7 50.9,203.1 48.4,199.0 43.3,195.5" fill="none" stroke="#505050" stroke-width="0.5" stroke-linejoin="round"/>
<polyline points="39.7,122.2 40.8,124.0 42.3,134.5" fill="none" stroke="#505050" stroke-width="0.5" stroke-linejoin="round"/>
<polyline points="305.9,25.5 302.9,27.3 296.3,29.6 292.2,32.6 288.1,37.8 286.6,43.7 290.6,48.4 295.7,52.5 302.9,57.8" fill="none" stroke="#505050" stroke-width="0.5" stroke-linejoin="round"/>
<polyline points="285.5,157.4 295.2,160.9" fill="none" stroke="#505050" stroke-width="0.5" stroke-linejoin="round"/>
<rect x="100.4" y="62.9" width="75.6" height="57.1" fill="none" stroke="#e8232c" stroke-width="1.5"/>
<rect x="100.5" y="6.1" width="76.0" height="57.5" fill="none" stroke="#f5873a" stroke-width="1.4"/>
<rect x="136.6" y="64.4" width="6.2" height="5.9" fill="#ff0000"/>
</g>
<rect x="48.4" y="5.6" width="255.0" height="205.1" fill="none" stroke="#b4b4b4" stroke-width="1"/>
<text x="44.9" y="214.2" font-size="9.9" text-anchor="end" fill="#222">20°N</text>
<line x1="46.6" x2="48.4" y1="210.7" y2="210.7" stroke="#999" stroke-width="0.8"/>
<text x="44.9" y="184.9" font-size="9.9" text-anchor="end" fill="#222">25°N</text>
<line x1="46.6" x2="48.4" y1="181.4" y2="181.4" stroke="#999" stroke-width="0.8"/>
<text x="44.9" y="155.6" font-size="9.9" text-anchor="end" fill="#222">30°N</text>
<line x1="46.6" x2="48.4" y1="152.1" y2="152.1" stroke="#999" stroke-width="0.8"/>
<text x="44.9" y="126.3" font-size="9.9" text-anchor="end" fill="#222">35°N</text>
<line x1="46.6" x2="48.4" y1="122.8" y2="122.8" stroke="#999" stroke-width="0.8"/>
<text x="44.9" y="97.0" font-size="9.9" text-anchor="end" fill="#222">40°N</text>
<line x1="46.6" x2="48.4" y1="93.5" y2="93.5" stroke="#999" stroke-width="0.8"/>
<text x="44.9" y="67.7" font-size="9.9" text-anchor="end" fill="#222">45°N</text>
<line x1="46.6" x2="48.4" y1="64.2" y2="64.2" stroke="#999" stroke-width="0.8"/>
<text x="44.9" y="38.4" font-size="9.9" text-anchor="end" fill="#222">50°N</text>
<line x1="46.6" x2="48.4" y1="34.9" y2="34.9" stroke="#999" stroke-width="0.8"/>
<text x="44.9" y="9.1" font-size="9.9" text-anchor="end" fill="#222">55°N</text>
<line x1="46.6" x2="48.4" y1="5.6" y2="5.6" stroke="#999" stroke-width="0.8"/>
<text x="47.6" y="226.8" font-size="9.9" text-anchor="middle" fill="#222">0</text>
<line x1="48.4" x2="48.4" y1="210.7" y2="212.5" stroke="#999" stroke-width="0.8"/>
<text x="72.3" y="226.8" font-size="9.9" text-anchor="middle" fill="#222">5°E</text>
<line x1="73.9" x2="73.9" y1="210.7" y2="212.5" stroke="#999" stroke-width="0.8"/>
<text x="97.8" y="226.8" font-size="9.9" text-anchor="middle" fill="#222">10°E</text>
<line x1="99.4" x2="99.4" y1="210.7" y2="212.5" stroke="#999" stroke-width="0.8"/>
<text x="123.3" y="226.8" font-size="9.9" text-anchor="middle" fill="#222">15°E</text>
<line x1="124.9" x2="124.9" y1="210.7" y2="212.5" stroke="#999" stroke-width="0.8"/>
<text x="148.8" y="226.8" font-size="9.9" text-anchor="middle" fill="#222">20°E</text>
<line x1="150.4" x2="150.4" y1="210.7" y2="212.5" stroke="#999" stroke-width="0.8"/>
<text x="174.3" y="226.8" font-size="9.9" text-anchor="middle" fill="#222">25°E</text>
<line x1="175.9" x2="175.9" y1="210.7" y2="212.5" stroke="#999" stroke-width="0.8"/>
<text x="199.8" y="226.8" font-size="9.9" text-anchor="middle" fill="#222">30°E</text>
<line x1="201.4" x2="201.4" y1="210.7" y2="212.5" stroke="#999" stroke-width="0.8"/>
<text x="225.3" y="226.8" font-size="9.9" text-anchor="middle" fill="#222">35°E</text>
<line x1="226.9" x2="226.9" y1="210.7" y2="212.5" stroke="#999" stroke-width="0.8"/>
<text x="250.8" y="226.8" font-size="9.9" text-anchor="middle" fill="#222">40°E</text>
<line x1="252.4" x2="252.4" y1="210.7" y2="212.5" stroke="#999" stroke-width="0.8"/>
<text x="276.3" y="226.8" font-size="9.9" text-anchor="middle" fill="#222">45°E</text>
<line x1="277.9" x2="277.9" y1="210.7" y2="212.5" stroke="#999" stroke-width="0.8"/>
<text x="301.8" y="226.8" font-size="9.9" text-anchor="middle" fill="#222">50°E</text>
<line x1="303.4" x2="303.4" y1="210.7" y2="212.5" stroke="#999" stroke-width="0.8"/>
<polygon points="313.9,33.6 317.5,16.0 321.1,33.6" fill="#a50f2d" stroke="#6a6a6a" stroke-width="0.3"/>
<rect x="313.9" y="33.6" width="7.2" height="17.0" fill="#d73027"/>
<rect x="313.9" y="50.6" width="7.2" height="17.0" fill="#f46d43"/>
<rect x="313.9" y="67.6" width="7.2" height="17.0" fill="#fdae61"/>
<rect x="313.9" y="84.6" width="7.2" height="17.2" fill="#fee090"/>
<rect x="313.9" y="101.8" width="7.2" height="17.0" fill="#f4f4f4"/>
<rect x="313.9" y="118.8" width="7.2" height="17.1" fill="#ddf1f9"/>
<rect x="313.9" y="135.9" width="7.2" height="17.1" fill="#a9d8e8"/>
<rect x="313.9" y="153.0" width="7.2" height="17.0" fill="#67d2e3"/>
<rect x="313.9" y="170.0" width="7.2" height="17.0" fill="#4472b8"/>
<polygon points="313.9,187.0 317.5,203.5 321.1,187.0" fill="#2b2d94" stroke="#6a6a6a" stroke-width="0.3"/>
<rect x="313.9" y="33.6" width="7.2" height="153.4" fill="none" stroke="#c8c8c8" stroke-width="0.6"/>
<line x1="313.9" x2="321.1" y1="50.6" y2="50.6" stroke="#bbbbbb" stroke-width="0.4"/>
<line x1="313.9" x2="321.1" y1="67.6" y2="67.6" stroke="#bbbbbb" stroke-width="0.4"/>
<line x1="313.9" x2="321.1" y1="84.6" y2="84.6" stroke="#bbbbbb" stroke-width="0.4"/>
<line x1="313.9" x2="321.1" y1="101.8" y2="101.8" stroke="#bbbbbb" stroke-width="0.4"/>
<line x1="313.9" x2="321.1" y1="118.8" y2="118.8" stroke="#bbbbbb" stroke-width="0.4"/>
<line x1="313.9" x2="321.1" y1="135.9" y2="135.9" stroke="#bbbbbb" stroke-width="0.4"/>
<line x1="313.9" x2="321.1" y1="153.0" y2="153.0" stroke="#bbbbbb" stroke-width="0.4"/>
<line x1="313.9" x2="321.1" y1="170.0" y2="170.0" stroke="#bbbbbb" stroke-width="0.4"/>
<text x="339.9" y="35.9" font-size="9.9" text-anchor="end" fill="#222">0.6</text>
<line x1="321.1" x2="322.3" y1="33.6" y2="33.6" stroke="#555" stroke-width="0.6"/>
<text x="339.9" y="52.9" font-size="9.9" text-anchor="end" fill="#222">0.5</text>
<line x1="321.1" x2="322.3" y1="50.6" y2="50.6" stroke="#555" stroke-width="0.6"/>
<text x="339.9" y="69.9" font-size="9.9" text-anchor="end" fill="#222">0.4</text>
<line x1="321.1" x2="322.3" y1="67.6" y2="67.6" stroke="#555" stroke-width="0.6"/>
<text x="339.9" y="86.9" font-size="9.9" text-anchor="end" fill="#222">0.3</text>
<line x1="321.1" x2="322.3" y1="84.6" y2="84.6" stroke="#555" stroke-width="0.6"/>
<text x="339.9" y="105.0" font-size="9.9" text-anchor="end" fill="#222">0.2</text>
<line x1="321.1" x2="322.3" y1="101.8" y2="101.8" stroke="#555" stroke-width="0.6"/>
<text x="339.9" y="121.1" font-size="9.9" text-anchor="end" fill="#222">-0.2</text>
<line x1="321.1" x2="322.3" y1="118.8" y2="118.8" stroke="#555" stroke-width="0.6"/>
<text x="339.9" y="138.2" font-size="9.9" text-anchor="end" fill="#222">-0.3</text>
<line x1="321.1" x2="322.3" y1="135.9" y2="135.9" stroke="#555" stroke-width="0.6"/>
<text x="339.9" y="155.3" font-size="9.9" text-anchor="end" fill="#222">-0.4</text>
<line x1="321.1" x2="322.3" y1="153.0" y2="153.0" stroke="#555" stroke-width="0.6"/>
<text x="339.9" y="172.3" font-size="9.9" text-anchor="end" fill="#222">-0.5</text>
<line x1="321.1" x2="322.3" y1="170.0" y2="170.0" stroke="#555" stroke-width="0.6"/>
<text x="339.9" y="189.3" font-size="9.9" text-anchor="end" fill="#222">-0.6</text>
<line x1="321.1" x2="322.3" y1="187.0" y2="187.0" stroke="#555" stroke-width="0.6"/>
<text transform="translate(351.2,106.3) rotate(-90)" font-size="9.75" text-anchor="middle" fill="#222">Correaltion coefficients</text>
<text x="363.6" y="19.0" font-size="24.9" fill="#000">b</text>
<rect x="405.0" y="5.0" width="271.4" height="201.8" fill="none" stroke="#a8a8a8" stroke-width="1.2"/>
<line x1="404.4" x2="677.0" y1="206.8" y2="206.8" stroke="#8c8c8c" stroke-width="1.2"/>
<line x1="676.4" x2="676.4" y1="4.6" y2="207.3" stroke="#858585" stroke-width="1.0"/>
<text x="400.3" y="8.5" font-size="9.9" text-anchor="end" fill="#222">1.2</text>
<text x="400.3" y="33.7" font-size="9.9" text-anchor="end" fill="#222">0.8</text>
<line x1="405.0" x2="410.0" y1="30.2" y2="30.2" stroke="#666" stroke-width="0.8"/>
<text x="400.3" y="59.0" font-size="9.9" text-anchor="end" fill="#222">0.4</text>
<line x1="405.0" x2="410.0" y1="55.5" y2="55.5" stroke="#666" stroke-width="0.8"/>
<text x="400.3" y="84.2" font-size="9.9" text-anchor="end" fill="#222">0</text>
<line x1="405.0" x2="410.0" y1="80.7" y2="80.7" stroke="#666" stroke-width="0.8"/>
<text x="400.3" y="109.4" font-size="9.9" text-anchor="end" fill="#222">-0.4</text>
<line x1="405.0" x2="410.0" y1="105.9" y2="105.9" stroke="#666" stroke-width="0.8"/>
<text x="400.3" y="134.6" font-size="9.9" text-anchor="end" fill="#222">-0.8</text>
<line x1="405.0" x2="410.0" y1="131.1" y2="131.1" stroke="#666" stroke-width="0.8"/>
<text x="400.3" y="159.9" font-size="9.9" text-anchor="end" fill="#222">-1.2</text>
<line x1="405.0" x2="410.0" y1="156.4" y2="156.4" stroke="#666" stroke-width="0.8"/>
<text x="400.3" y="185.1" font-size="9.9" text-anchor="end" fill="#222">-1.6</text>
<line x1="405.0" x2="410.0" y1="181.6" y2="181.6" stroke="#666" stroke-width="0.8"/>
<text x="400.3" y="210.3" font-size="9.9" text-anchor="end" fill="#222">-2</text>
<text x="404.5" y="225.6" font-size="9.6" text-anchor="middle" fill="#222">1900</text>
<line x1="404.5" x2="404.5" y1="206.8" y2="212.0" stroke="#666" stroke-width="0.9"/>
<text x="449.5" y="225.6" font-size="9.6" text-anchor="middle" fill="#222">1920</text>
<line x1="449.5" x2="449.5" y1="206.8" y2="212.0" stroke="#666" stroke-width="0.9"/>
<text x="494.5" y="225.6" font-size="9.6" text-anchor="middle" fill="#222">1940</text>
<line x1="494.5" x2="494.5" y1="206.8" y2="212.0" stroke="#666" stroke-width="0.9"/>
<text x="539.5" y="225.6" font-size="9.6" text-anchor="middle" fill="#222">1960</text>
<line x1="539.5" x2="539.5" y1="206.8" y2="212.0" stroke="#666" stroke-width="0.9"/>
<text x="584.5" y="225.6" font-size="9.6" text-anchor="middle" fill="#222">1980</text>
<line x1="584.5" x2="584.5" y1="206.8" y2="212.0" stroke="#666" stroke-width="0.9"/>
<text x="629.5" y="225.6" font-size="9.6" text-anchor="middle" fill="#222">2000</text>
<line x1="629.5" x2="629.5" y1="206.8" y2="212.0" stroke="#666" stroke-width="0.9"/>
<text x="674.5" y="225.6" font-size="9.6" text-anchor="middle" fill="#222">2020</text>
<line x1="674.5" x2="674.5" y1="206.8" y2="212.0" stroke="#666" stroke-width="0.9"/>
<text transform="translate(377.5,111.3) rotate(-90)" font-size="11.15" text-anchor="middle" fill="#111">SPEI (Apr.-Aug.)</text>
<polyline points="406.75,70.10 409.00,92.61 411.25,74.17 413.50,68.74 415.75,53.82 418.00,46.50 420.25,70.10 422.50,78.23 424.75,63.32 427.00,57.89 429.25,61.96 431.50,80.95 433.75,48.40 436.00,57.89 438.25,47.04 440.50,87.73 442.75,56.53 445.00,68.74 447.25,48.40 449.50,83.66 451.75,40.26 454.00,82.30 456.25,63.32 458.50,75.52 460.75,75.52 463.00,45.69 465.25,72.81 467.50,101.29 469.75,79.59 472.00,79.59 474.25,56.53 476.50,82.30 478.75,55.18 481.00,76.88 483.25,82.30 485.50,49.75 487.75,52.47 490.00,45.69 492.25,86.37 494.50,49.75 496.75,67.38 499.00,71.45 501.25,93.15 503.50,85.01 505.75,97.22 508.00,105.36 510.25,95.86 512.50,85.01 514.75,85.01 517.00,89.08 519.25,75.52 521.50,101.29 523.75,76.88 526.00,76.88 528.25,38.90 530.50,66.03 532.75,68.74 535.00,98.58 537.25,63.32 539.50,72.81 541.75,70.10 544.00,89.08 546.25,60.60 548.50,67.38 550.75,85.01 553.00,76.88 555.25,95.86 557.50,91.80 559.75,66.03 562.00,66.03 564.25,104.00 566.50,67.38 568.75,76.88 571.00,85.01 573.25,57.89 575.50,45.69 577.75,97.22 580.00,93.15 582.25,93.15 584.50,63.32 586.75,87.73 589.00,76.88 591.25,87.73 593.50,94.51 595.75,112.14 598.00,101.29 600.25,95.86 602.50,102.65 604.75,86.37 607.00,124.34 609.25,60.60 611.50,94.51 613.75,95.86 616.00,87.73 618.25,78.23 620.50,85.01 622.75,83.66 625.00,76.88 627.25,78.23 629.50,104.00 631.75,90.44 634.00,82.30 636.25,87.73 638.50,104.00 640.75,67.38 643.00,61.96 645.25,104.00 647.50,97.22 649.75,87.73 652.00,68.74 654.25,93.15 656.50,116.21 658.75,87.73 661.00,79.59 663.25,99.93 665.50,91.80 667.75,101.29 670.00,93.15 672.25,102.65" fill="none" stroke="#000" stroke-width="1.3" stroke-linejoin="miter"/>
<polyline points="406.75,72.81 409.00,68.74 411.25,67.38 413.50,109.43 415.75,67.38 418.00,68.74 420.25,78.23 422.50,98.58 424.75,72.81 427.00,48.40 429.25,60.60 431.50,60.60 433.75,32.12 436.00,56.53 438.25,28.60 440.50,82.30 442.75,106.71 445.00,59.25 447.25,49.75 449.50,68.74 451.75,66.03 454.00,101.29 456.25,78.23 458.50,61.96 460.75,60.60 463.00,47.04 465.25,110.78 467.50,106.71 469.75,67.38 472.00,52.47 474.25,98.58 476.50,76.88 478.75,57.89 481.00,87.73 483.25,109.43 485.50,57.89 487.75,39.45 490.00,71.45 492.25,71.45 494.50,22.63 496.75,57.89 499.00,87.73 501.25,106.71 503.50,76.88 505.75,143.33 508.00,139.26 510.25,109.43 512.50,64.67 514.75,87.73 517.00,144.14 519.25,76.88 521.50,144.69 523.75,56.53 526.00,64.67 528.25,63.32 530.50,74.17 532.75,52.47 535.00,76.88 537.25,36.19 539.50,72.81 541.75,76.88 544.00,122.99 546.25,78.23 548.50,71.45 550.75,67.38 553.00,63.32 555.25,61.96 557.50,74.17 559.75,63.32 562.00,63.32 564.25,95.86 566.50,45.69 568.75,71.45 571.00,60.60 573.25,36.19 575.50,22.63 577.75,85.01 580.00,49.75 582.25,51.11 584.50,51.11 586.75,89.08 589.00,90.44 591.25,86.37 593.50,70.10 595.75,121.63 598.00,87.73 600.25,87.73 602.50,117.56 604.75,45.69 607.00,109.43 609.25,41.62 611.50,93.15 613.75,136.55 616.00,87.73 618.25,56.53 620.50,82.30 622.75,71.45 625.00,93.15 627.25,72.81 629.50,141.97 631.75,87.73 634.00,48.40 636.25,150.11 638.50,74.17 640.75,72.81 643.00,87.73 645.25,127.06 647.50,106.71 649.75,114.85 652.00,76.88 654.25,120.28 656.50,129.77 658.75,87.73 661.00,40.26 663.25,128.41 665.50,90.44 667.75,144.69 670.00,93.15 672.25,70.10" fill="none" stroke="#ff0000" stroke-width="1.3" stroke-linejoin="miter"/>
<text x="421.5" y="192.4" font-size="11.15" fill="#111">Explained variance: 49.5%</text>
<line x1="566.9" x2="586.8" y1="177.8" y2="177.8" stroke="#000" stroke-width="1.6"/>
<line x1="566.9" x2="586.8" y1="190.5" y2="190.5" stroke="#ff0000" stroke-width="1.6"/>
<text x="591.4" y="181.3" font-size="9.6" textLength="74.8" lengthAdjust="spacingAndGlyphs" fill="#111">Reconstructed_SPEI</text>
<text x="591.4" y="194.0" font-size="9.6" textLength="58" lengthAdjust="spacingAndGlyphs" fill="#111">Observed_SPEI</text>
<text x="88.0" y="256.5" font-size="27" font-family="Liberation Serif, serif" fill="#000">c</text>
<rect x="125.35" y="330.62" width="1.1" height="32.61" fill="#6498f6"/>
<rect x="126.89" y="324.03" width="1.1" height="39.21" fill="#6498f6"/>
<rect x="128.43" y="299.57" width="1.1" height="63.67" fill="#6498f6"/>
<rect x="129.97" y="295.69" width="1.1" height="67.55" fill="#6498f6"/>
<rect x="131.51" y="306.56" width="1.1" height="56.68" fill="#6498f6"/>
<rect x="133.05" y="305.78" width="1.1" height="57.46" fill="#6498f6"/>
<rect x="134.59" y="348.48" width="1.1" height="14.75" fill="#6498f6"/>
<rect x="136.13" y="341.50" width="1.1" height="21.74" fill="#6498f6"/>
<rect x="137.67" y="326.74" width="1.1" height="36.49" fill="#6498f6"/>
<rect x="139.21" y="305.78" width="1.1" height="57.46" fill="#6498f6"/>
<rect x="140.75" y="323.64" width="1.1" height="39.60" fill="#6498f6"/>
<rect x="142.29" y="363.24" width="1.1" height="9.32" fill="#f5733f"/>
<rect x="143.83" y="344.60" width="1.1" height="18.63" fill="#6498f6"/>
<rect x="145.37" y="299.57" width="1.1" height="63.67" fill="#6498f6"/>
<rect x="146.91" y="340.72" width="1.1" height="22.52" fill="#6498f6"/>
<rect x="148.45" y="363.24" width="1.1" height="4.66" fill="#f5733f"/>
<rect x="149.99" y="350.81" width="1.1" height="12.42" fill="#6498f6"/>
<rect x="151.53" y="349.26" width="1.1" height="13.98" fill="#6498f6"/>
<rect x="153.07" y="345.38" width="1.1" height="17.86" fill="#6498f6"/>
<rect x="154.61" y="339.94" width="1.1" height="23.29" fill="#6498f6"/>
<rect x="156.15" y="302.67" width="1.1" height="60.56" fill="#6498f6"/>
<rect x="157.69" y="336.84" width="1.1" height="26.40" fill="#6498f6"/>
<rect x="159.23" y="334.51" width="1.1" height="28.73" fill="#6498f6"/>
<rect x="160.76" y="363.24" width="1.1" height="48.14" fill="#f5733f"/>
<rect x="162.30" y="363.24" width="1.1" height="10.09" fill="#f5733f"/>
<rect x="163.84" y="363.24" width="1.1" height="6.99" fill="#f5733f"/>
<rect x="165.38" y="340.72" width="1.1" height="22.52" fill="#6498f6"/>
<rect x="166.92" y="310.44" width="1.1" height="52.80" fill="#6498f6"/>
<rect x="168.46" y="350.04" width="1.1" height="13.20" fill="#6498f6"/>
<rect x="170.00" y="363.24" width="1.1" height="21.74" fill="#f5733f"/>
<rect x="171.54" y="352.37" width="1.1" height="10.87" fill="#6498f6"/>
<rect x="173.08" y="354.69" width="1.1" height="8.54" fill="#6498f6"/>
<rect x="174.62" y="325.19" width="1.1" height="38.05" fill="#6498f6"/>
<rect x="176.16" y="326.74" width="1.1" height="36.49" fill="#6498f6"/>
<rect x="177.70" y="299.57" width="1.1" height="63.67" fill="#6498f6"/>
<rect x="179.24" y="330.62" width="1.1" height="32.61" fill="#6498f6"/>
<rect x="180.78" y="363.24" width="1.1" height="4.66" fill="#f5733f"/>
<rect x="182.32" y="329.07" width="1.1" height="34.16" fill="#6498f6"/>
<rect x="183.86" y="333.73" width="1.1" height="29.50" fill="#6498f6"/>
<rect x="185.40" y="329.85" width="1.1" height="33.39" fill="#6498f6"/>
<rect x="186.94" y="311.21" width="1.1" height="52.02" fill="#6498f6"/>
<rect x="188.48" y="319.75" width="1.1" height="43.48" fill="#6498f6"/>
<rect x="190.02" y="320.53" width="1.1" height="42.70" fill="#6498f6"/>
<rect x="191.56" y="344.60" width="1.1" height="18.63" fill="#6498f6"/>
<rect x="193.10" y="338.39" width="1.1" height="24.85" fill="#6498f6"/>
<rect x="194.64" y="358.58" width="1.1" height="4.66" fill="#6498f6"/>
<rect x="196.18" y="357.80" width="1.1" height="5.44" fill="#6498f6"/>
<rect x="197.72" y="337.61" width="1.1" height="25.62" fill="#6498f6"/>
<rect x="199.25" y="336.06" width="1.1" height="27.18" fill="#6498f6"/>
<rect x="200.79" y="354.69" width="1.1" height="8.54" fill="#6498f6"/>
<rect x="202.33" y="358.58" width="1.1" height="4.66" fill="#6498f6"/>
<rect x="203.87" y="358.58" width="1.1" height="4.66" fill="#6498f6"/>
<rect x="205.41" y="343.82" width="1.1" height="19.41" fill="#6498f6"/>
<rect x="206.95" y="361.68" width="1.1" height="1.55" fill="#6498f6"/>
<rect x="208.49" y="351.59" width="1.1" height="11.65" fill="#6498f6"/>
<rect x="210.03" y="350.81" width="1.1" height="12.42" fill="#6498f6"/>
<rect x="211.57" y="337.61" width="1.1" height="25.62" fill="#6498f6"/>
<rect x="213.11" y="337.61" width="1.1" height="25.62" fill="#6498f6"/>
<rect x="214.65" y="363.24" width="1.1" height="24.07" fill="#f5733f"/>
<rect x="216.19" y="303.45" width="1.1" height="59.79" fill="#6498f6"/>
<rect x="217.73" y="273.17" width="1.1" height="90.07" fill="#6498f6"/>
<rect x="219.27" y="322.86" width="1.1" height="40.37" fill="#6498f6"/>
<rect x="220.81" y="308.88" width="1.1" height="54.35" fill="#6498f6"/>
<rect x="222.35" y="304.23" width="1.1" height="59.01" fill="#6498f6"/>
<rect x="223.89" y="358.58" width="1.1" height="4.66" fill="#6498f6"/>
<rect x="225.43" y="348.48" width="1.1" height="14.75" fill="#6498f6"/>
<rect x="226.97" y="347.71" width="1.1" height="15.53" fill="#6498f6"/>
<rect x="228.51" y="357.80" width="1.1" height="5.44" fill="#6498f6"/>
<rect x="230.05" y="363.24" width="1.1" height="5.44" fill="#f5733f"/>
<rect x="231.59" y="363.24" width="1.1" height="10.09" fill="#f5733f"/>
<rect x="233.13" y="329.07" width="1.1" height="34.16" fill="#6498f6"/>
<rect x="234.67" y="363.24" width="1.1" height="23.29" fill="#f5733f"/>
<rect x="236.21" y="363.24" width="1.1" height="46.59" fill="#f5733f"/>
<rect x="237.74" y="332.95" width="1.1" height="30.28" fill="#6498f6"/>
<rect x="239.28" y="363.24" width="1.1" height="13.20" fill="#f5733f"/>
<rect x="240.82" y="363.24" width="1.1" height="2.33" fill="#f5733f"/>
<rect x="242.36" y="350.81" width="1.1" height="12.42" fill="#6498f6"/>
<rect x="243.90" y="352.37" width="1.1" height="10.87" fill="#6498f6"/>
<rect x="245.44" y="363.24" width="1.1" height="14.75" fill="#f5733f"/>
<rect x="246.98" y="354.69" width="1.1" height="8.54" fill="#6498f6"/>
<rect x="248.52" y="363.24" width="1.1" height="29.50" fill="#f5733f"/>
<rect x="250.06" y="336.84" width="1.1" height="26.40" fill="#6498f6"/>
<rect x="251.60" y="363.24" width="1.1" height="2.33" fill="#f5733f"/>
<rect x="253.14" y="345.38" width="1.1" height="17.86" fill="#6498f6"/>
<rect x="254.68" y="363.24" width="1.1" height="9.32" fill="#f5733f"/>
<rect x="256.22" y="363.24" width="1.1" height="2.33" fill="#f5733f"/>
<rect x="257.76" y="359.35" width="1.1" height="3.88" fill="#6498f6"/>
<rect x="259.30" y="363.24" width="1.1" height="27.95" fill="#f5733f"/>
<rect x="260.84" y="336.84" width="1.1" height="26.40" fill="#6498f6"/>
<rect x="262.38" y="339.94" width="1.1" height="23.29" fill="#6498f6"/>
<rect x="263.92" y="363.24" width="1.1" height="7.76" fill="#f5733f"/>
<rect x="265.46" y="357.02" width="1.1" height="6.21" fill="#6498f6"/>
<rect x="267.00" y="363.24" width="1.1" height="20.96" fill="#f5733f"/>
<rect x="268.54" y="350.81" width="1.1" height="12.42" fill="#6498f6"/>
<rect x="270.08" y="344.60" width="1.1" height="18.63" fill="#6498f6"/>
<rect x="271.62" y="340.72" width="1.1" height="22.52" fill="#6498f6"/>
<rect x="273.16" y="363.24" width="1.1" height="4.66" fill="#f5733f"/>
<rect x="274.70" y="350.81" width="1.1" height="12.42" fill="#6498f6"/>
<rect x="276.23" y="338.39" width="1.1" height="24.85" fill="#6498f6"/>
<rect x="277.77" y="363.24" width="1.1" height="17.86" fill="#f5733f"/>
<rect x="279.31" y="363.24" width="1.1" height="5.44" fill="#f5733f"/>
<rect x="280.85" y="363.24" width="1.1" height="3.88" fill="#f5733f"/>
<rect x="282.39" y="336.84" width="1.1" height="26.40" fill="#6498f6"/>
<rect x="283.93" y="308.88" width="1.1" height="54.35" fill="#6498f6"/>
<rect x="285.47" y="297.24" width="1.1" height="66.00" fill="#6498f6"/>
<rect x="287.01" y="317.43" width="1.1" height="45.81" fill="#6498f6"/>
<rect x="288.55" y="332.95" width="1.1" height="30.28" fill="#6498f6"/>
<rect x="290.09" y="334.51" width="1.1" height="28.73" fill="#6498f6"/>
<rect x="291.63" y="336.84" width="1.1" height="26.40" fill="#6498f6"/>
<rect x="293.17" y="332.95" width="1.1" height="30.28" fill="#6498f6"/>
<rect x="294.71" y="332.95" width="1.1" height="30.28" fill="#6498f6"/>
<rect x="296.25" y="315.87" width="1.1" height="47.36" fill="#6498f6"/>
<rect x="297.79" y="363.24" width="1.1" height="14.75" fill="#f5733f"/>
<rect x="299.33" y="343.05" width="1.1" height="20.19" fill="#6498f6"/>
<rect x="300.87" y="336.06" width="1.1" height="27.18" fill="#6498f6"/>
<rect x="302.41" y="318.98" width="1.1" height="44.26" fill="#6498f6"/>
<rect x="303.95" y="336.06" width="1.1" height="27.18" fill="#6498f6"/>
<rect x="305.49" y="334.51" width="1.1" height="28.73" fill="#6498f6"/>
<rect x="307.03" y="338.39" width="1.1" height="24.85" fill="#6498f6"/>
<rect x="308.57" y="353.14" width="1.1" height="10.09" fill="#6498f6"/>
<rect x="310.11" y="363.24" width="1.1" height="23.29" fill="#f5733f"/>
<rect x="311.65" y="343.05" width="1.1" height="20.19" fill="#6498f6"/>
<rect x="313.19" y="359.35" width="1.1" height="3.88" fill="#6498f6"/>
<rect x="314.72" y="332.95" width="1.1" height="30.28" fill="#6498f6"/>
<rect x="316.26" y="363.24" width="1.1" height="35.72" fill="#f5733f"/>
<rect x="317.80" y="363.24" width="1.1" height="2.33" fill="#f5733f"/>
<rect x="319.34" y="363.24" width="1.1" height="5.44" fill="#f5733f"/>
<rect x="320.88" y="302.67" width="1.1" height="60.56" fill="#6498f6"/>
<rect x="322.42" y="355.47" width="1.1" height="7.76" fill="#6498f6"/>
<rect x="323.96" y="340.72" width="1.1" height="22.52" fill="#6498f6"/>
<rect x="325.50" y="363.24" width="1.1" height="17.08" fill="#f5733f"/>
<rect x="327.04" y="363.24" width="1.1" height="2.33" fill="#f5733f"/>
<rect x="328.58" y="343.82" width="1.1" height="19.41" fill="#6498f6"/>
<rect x="330.12" y="363.24" width="1.1" height="2.33" fill="#f5733f"/>
<rect x="331.66" y="344.60" width="1.1" height="18.63" fill="#6498f6"/>
<rect x="333.20" y="345.38" width="1.1" height="17.86" fill="#6498f6"/>
<rect x="334.74" y="363.24" width="1.1" height="3.11" fill="#f5733f"/>
<rect x="336.28" y="329.07" width="1.1" height="34.16" fill="#6498f6"/>
<rect x="337.82" y="357.80" width="1.1" height="5.44" fill="#6498f6"/>
<rect x="339.36" y="363.24" width="1.1" height="26.40" fill="#f5733f"/>
<rect x="340.90" y="342.27" width="1.1" height="20.96" fill="#6498f6"/>
<rect x="342.44" y="357.80" width="1.1" height="5.44" fill="#6498f6"/>
<rect x="343.98" y="355.47" width="1.1" height="7.76" fill="#6498f6"/>
<rect x="345.52" y="363.24" width="1.1" height="6.21" fill="#f5733f"/>
<rect x="347.06" y="363.24" width="1.1" height="16.31" fill="#f5733f"/>
<rect x="348.60" y="363.24" width="1.1" height="12.42" fill="#f5733f"/>
<rect x="350.14" y="363.24" width="1.1" height="6.99" fill="#f5733f"/>
<rect x="351.68" y="363.24" width="1.1" height="4.66" fill="#f5733f"/>
<rect x="353.21" y="332.95" width="1.1" height="30.28" fill="#6498f6"/>
<rect x="354.75" y="353.92" width="1.1" height="9.32" fill="#6498f6"/>
<rect x="356.29" y="358.58" width="1.1" height="4.66" fill="#6498f6"/>
<rect x="357.83" y="363.24" width="1.1" height="7.76" fill="#f5733f"/>
<rect x="359.37" y="363.24" width="1.1" height="10.09" fill="#f5733f"/>
<rect x="360.91" y="363.24" width="1.1" height="44.26" fill="#f5733f"/>
<rect x="362.45" y="363.24" width="1.1" height="23.29" fill="#f5733f"/>
<rect x="363.99" y="346.93" width="1.1" height="16.31" fill="#6498f6"/>
<rect x="365.53" y="363.24" width="1.1" height="42.70" fill="#f5733f"/>
<rect x="367.07" y="363.24" width="1.1" height="48.14" fill="#f5733f"/>
<rect x="368.61" y="326.74" width="1.1" height="36.49" fill="#6498f6"/>
<rect x="370.15" y="363.24" width="1.1" height="6.99" fill="#f5733f"/>
<rect x="371.69" y="360.91" width="1.1" height="2.33" fill="#6498f6"/>
<rect x="373.23" y="353.92" width="1.1" height="9.32" fill="#6498f6"/>
<rect x="374.77" y="357.80" width="1.1" height="5.44" fill="#6498f6"/>
<rect x="376.31" y="363.24" width="1.1" height="20.19" fill="#f5733f"/>
<rect x="377.85" y="363.24" width="1.1" height="32.61" fill="#f5733f"/>
<rect x="379.39" y="363.24" width="1.1" height="17.86" fill="#f5733f"/>
<rect x="380.93" y="363.24" width="1.1" height="6.21" fill="#f5733f"/>
<rect x="382.47" y="363.24" width="1.1" height="5.44" fill="#f5733f"/>
<rect x="384.01" y="336.84" width="1.1" height="26.40" fill="#6498f6"/>
<rect x="385.55" y="353.14" width="1.1" height="10.09" fill="#6498f6"/>
<rect x="387.09" y="363.24" width="1.1" height="9.32" fill="#f5733f"/>
<rect x="388.63" y="363.24" width="1.1" height="10.09" fill="#f5733f"/>
<rect x="390.17" y="363.24" width="1.1" height="16.31" fill="#f5733f"/>
<rect x="391.70" y="363.24" width="1.1" height="13.98" fill="#f5733f"/>
<rect x="393.24" y="339.94" width="1.1" height="23.29" fill="#6498f6"/>
<rect x="394.78" y="361.68" width="1.1" height="1.55" fill="#6498f6"/>
<rect x="396.32" y="363.24" width="1.1" height="3.88" fill="#f5733f"/>
<rect x="397.86" y="360.91" width="1.1" height="2.33" fill="#6498f6"/>
<rect x="399.40" y="363.24" width="1.1" height="35.72" fill="#f5733f"/>
<rect x="400.94" y="363.24" width="1.1" height="19.41" fill="#f5733f"/>
<rect x="402.48" y="363.24" width="1.1" height="25.62" fill="#f5733f"/>
<rect x="404.02" y="363.24" width="1.1" height="38.82" fill="#f5733f"/>
<rect x="405.56" y="355.47" width="1.1" height="7.76" fill="#6498f6"/>
<rect x="407.10" y="363.24" width="1.1" height="10.09" fill="#f5733f"/>
<rect x="408.64" y="363.24" width="1.1" height="31.06" fill="#f5733f"/>
<rect x="410.18" y="363.24" width="1.1" height="17.86" fill="#f5733f"/>
<rect x="411.72" y="357.80" width="1.1" height="5.44" fill="#6498f6"/>
<rect x="413.26" y="343.82" width="1.1" height="19.41" fill="#6498f6"/>
<rect x="414.80" y="363.24" width="1.1" height="14.75" fill="#f5733f"/>
<rect x="416.34" y="332.95" width="1.1" height="30.28" fill="#6498f6"/>
<rect x="417.88" y="339.94" width="1.1" height="23.29" fill="#6498f6"/>
<rect x="419.42" y="360.13" width="1.1" height="3.11" fill="#6498f6"/>
<rect x="420.96" y="363.24" width="1.1" height="23.29" fill="#f5733f"/>
<rect x="422.50" y="357.02" width="1.1" height="6.21" fill="#6498f6"/>
<rect x="424.04" y="363.24" width="1.1" height="32.61" fill="#f5733f"/>
<rect x="425.58" y="340.72" width="1.1" height="22.52" fill="#6498f6"/>
<rect x="427.12" y="332.18" width="1.1" height="31.06" fill="#6498f6"/>
<rect x="428.66" y="363.24" width="1.1" height="16.31" fill="#f5733f"/>
<rect x="430.19" y="363.24" width="1.1" height="31.83" fill="#f5733f"/>
<rect x="431.73" y="360.13" width="1.1" height="3.11" fill="#6498f6"/>
<rect x="433.27" y="344.60" width="1.1" height="18.63" fill="#6498f6"/>
<rect x="434.81" y="353.14" width="1.1" height="10.09" fill="#6498f6"/>
<rect x="436.35" y="363.24" width="1.1" height="10.87" fill="#f5733f"/>
<rect x="437.89" y="328.30" width="1.1" height="34.94" fill="#6498f6"/>
<rect x="439.43" y="345.38" width="1.1" height="17.86" fill="#6498f6"/>
<rect x="440.97" y="315.10" width="1.1" height="48.14" fill="#6498f6"/>
<rect x="442.51" y="363.24" width="1.1" height="16.31" fill="#f5733f"/>
<rect x="444.05" y="343.82" width="1.1" height="19.41" fill="#6498f6"/>
<rect x="445.59" y="363.24" width="1.1" height="9.32" fill="#f5733f"/>
<rect x="447.13" y="334.51" width="1.1" height="28.73" fill="#6498f6"/>
<rect x="448.67" y="363.24" width="1.1" height="7.76" fill="#f5733f"/>
<rect x="450.21" y="323.64" width="1.1" height="39.60" fill="#6498f6"/>
<rect x="451.75" y="332.95" width="1.1" height="30.28" fill="#6498f6"/>
<rect x="453.29" y="363.24" width="1.1" height="23.29" fill="#f5733f"/>
<rect x="454.83" y="363.24" width="1.1" height="11.65" fill="#f5733f"/>
<rect x="456.37" y="363.24" width="1.1" height="2.33" fill="#f5733f"/>
<rect x="457.91" y="332.95" width="1.1" height="30.28" fill="#6498f6"/>
<rect x="459.45" y="363.24" width="1.1" height="17.86" fill="#f5733f"/>
<rect x="460.99" y="363.24" width="1.1" height="33.39" fill="#f5733f"/>
<rect x="462.53" y="363.24" width="1.1" height="6.21" fill="#f5733f"/>
<rect x="464.07" y="363.24" width="1.1" height="8.54" fill="#f5733f"/>
<rect x="465.61" y="343.82" width="1.1" height="19.41" fill="#6498f6"/>
<rect x="467.15" y="363.24" width="1.1" height="16.31" fill="#f5733f"/>
<rect x="468.68" y="342.27" width="1.1" height="20.96" fill="#6498f6"/>
<rect x="470.22" y="363.24" width="1.1" height="12.42" fill="#f5733f"/>
<rect x="471.76" y="363.24" width="1.1" height="21.74" fill="#f5733f"/>
<rect x="473.30" y="348.48" width="1.1" height="14.75" fill="#6498f6"/>
<rect x="474.84" y="336.84" width="1.1" height="26.40" fill="#6498f6"/>
<rect x="476.38" y="332.95" width="1.1" height="30.28" fill="#6498f6"/>
<rect x="477.92" y="339.94" width="1.1" height="23.29" fill="#6498f6"/>
<rect x="479.46" y="336.06" width="1.1" height="27.18" fill="#6498f6"/>
<rect x="481.00" y="351.59" width="1.1" height="11.65" fill="#6498f6"/>
<rect x="482.54" y="363.24" width="1.1" height="3.88" fill="#f5733f"/>
<rect x="484.08" y="363.24" width="1.1" height="6.99" fill="#f5733f"/>
<rect x="485.62" y="363.24" width="1.1" height="16.31" fill="#f5733f"/>
<rect x="487.16" y="363.24" width="1.1" height="33.39" fill="#f5733f"/>
<rect x="488.70" y="363.24" width="1.1" height="38.04" fill="#f5733f"/>
<rect x="490.24" y="363.24" width="1.1" height="25.62" fill="#f5733f"/>
<rect x="491.78" y="355.47" width="1.1" height="7.76" fill="#6498f6"/>
<rect x="493.32" y="363.24" width="1.1" height="21.74" fill="#f5733f"/>
<rect x="494.86" y="363.24" width="1.1" height="31.06" fill="#f5733f"/>
<rect x="496.40" y="363.24" width="1.1" height="38.04" fill="#f5733f"/>
<rect x="497.94" y="363.24" width="1.1" height="6.21" fill="#f5733f"/>
<rect x="499.48" y="363.24" width="1.1" height="4.66" fill="#f5733f"/>
<rect x="501.02" y="363.24" width="1.1" height="8.54" fill="#f5733f"/>
<rect x="502.56" y="322.86" width="1.1" height="40.37" fill="#6498f6"/>
<rect x="504.10" y="363.24" width="1.1" height="5.44" fill="#f5733f"/>
<rect x="505.64" y="357.80" width="1.1" height="5.44" fill="#6498f6"/>
<rect x="507.17" y="363.24" width="1.1" height="32.61" fill="#f5733f"/>
<rect x="508.71" y="343.82" width="1.1" height="19.41" fill="#6498f6"/>
<rect x="510.25" y="363.24" width="1.1" height="6.99" fill="#f5733f"/>
<rect x="511.79" y="360.13" width="1.1" height="3.11" fill="#6498f6"/>
<rect x="513.33" y="363.24" width="1.1" height="20.19" fill="#f5733f"/>
<rect x="514.87" y="348.48" width="1.1" height="14.75" fill="#6498f6"/>
<rect x="516.41" y="360.13" width="1.1" height="3.11" fill="#6498f6"/>
<rect x="517.95" y="363.24" width="1.1" height="17.86" fill="#f5733f"/>
<rect x="519.49" y="363.24" width="1.1" height="23.29" fill="#f5733f"/>
<rect x="521.03" y="363.24" width="1.1" height="27.95" fill="#f5733f"/>
<rect x="522.57" y="363.24" width="1.1" height="21.74" fill="#f5733f"/>
<rect x="524.11" y="358.58" width="1.1" height="4.66" fill="#6498f6"/>
<rect x="525.65" y="353.92" width="1.1" height="9.32" fill="#6498f6"/>
<rect x="527.19" y="363.24" width="1.1" height="38.82" fill="#f5733f"/>
<rect x="528.73" y="352.37" width="1.1" height="10.87" fill="#6498f6"/>
<rect x="530.27" y="363.24" width="1.1" height="17.86" fill="#f5733f"/>
<rect x="531.81" y="363.24" width="1.1" height="10.09" fill="#f5733f"/>
<rect x="533.35" y="345.38" width="1.1" height="17.86" fill="#6498f6"/>
<rect x="534.89" y="331.40" width="1.1" height="31.83" fill="#6498f6"/>
<rect x="536.43" y="363.24" width="1.1" height="29.50" fill="#f5733f"/>
<rect x="537.97" y="363.24" width="1.1" height="25.62" fill="#f5733f"/>
<rect x="539.51" y="363.24" width="1.1" height="15.53" fill="#f5733f"/>
<rect x="541.05" y="350.81" width="1.1" height="12.42" fill="#6498f6"/>
<rect x="542.59" y="363.24" width="1.1" height="17.86" fill="#f5733f"/>
<rect x="544.13" y="363.24" width="1.1" height="11.65" fill="#f5733f"/>
<rect x="545.66" y="363.24" width="1.1" height="28.73" fill="#f5733f"/>
<rect x="547.20" y="363.24" width="1.1" height="31.83" fill="#f5733f"/>
<rect x="548.74" y="363.24" width="1.1" height="60.56" fill="#f5733f"/>
<rect x="550.28" y="363.24" width="1.1" height="38.04" fill="#f5733f"/>
<rect x="551.82" y="363.24" width="1.1" height="32.61" fill="#f5733f"/>
<rect x="553.36" y="363.24" width="1.1" height="36.49" fill="#f5733f"/>
<rect x="554.90" y="363.24" width="1.1" height="45.03" fill="#f5733f"/>
<rect x="556.44" y="363.24" width="1.1" height="64.44" fill="#f5733f"/>
<rect x="557.98" y="336.84" width="1.1" height="26.40" fill="#6498f6"/>
<rect x="559.52" y="363.24" width="1.1" height="45.03" fill="#f5733f"/>
<rect x="561.06" y="363.24" width="1.1" height="67.55" fill="#f5733f"/>
<rect x="562.60" y="363.24" width="1.1" height="23.29" fill="#f5733f"/>
<rect x="564.14" y="363.24" width="1.1" height="17.86" fill="#f5733f"/>
<rect x="565.68" y="363.24" width="1.1" height="14.75" fill="#f5733f"/>
<rect x="567.22" y="363.24" width="1.1" height="10.09" fill="#f5733f"/>
<rect x="568.76" y="363.24" width="1.1" height="14.75" fill="#f5733f"/>
<rect x="570.30" y="363.24" width="1.1" height="17.86" fill="#f5733f"/>
<rect x="571.84" y="363.24" width="1.1" height="67.55" fill="#f5733f"/>
<rect x="573.38" y="363.24" width="1.1" height="41.15" fill="#f5733f"/>
<rect x="574.92" y="363.24" width="1.1" height="31.06" fill="#f5733f"/>
<rect x="576.46" y="363.24" width="1.1" height="21.74" fill="#f5733f"/>
<rect x="578.00" y="363.24" width="1.1" height="39.60" fill="#f5733f"/>
<rect x="579.54" y="359.35" width="1.1" height="3.88" fill="#6498f6"/>
<rect x="581.08" y="351.59" width="1.1" height="11.65" fill="#6498f6"/>
<rect x="582.62" y="363.24" width="1.1" height="40.37" fill="#f5733f"/>
<rect x="584.15" y="363.24" width="1.1" height="25.62" fill="#f5733f"/>
<rect x="585.69" y="363.24" width="1.1" height="17.86" fill="#f5733f"/>
<rect x="587.23" y="358.58" width="1.1" height="4.66" fill="#6498f6"/>
<rect x="588.77" y="363.24" width="1.1" height="29.50" fill="#f5733f"/>
<rect x="590.31" y="363.24" width="1.1" height="54.35" fill="#f5733f"/>
<rect x="591.85" y="363.24" width="1.1" height="34.94" fill="#f5733f"/>
<rect x="593.39" y="346.15" width="1.1" height="17.08" fill="#6498f6"/>
<rect x="594.93" y="363.24" width="1.1" height="29.50" fill="#f5733f"/>
<rect x="596.47" y="363.24" width="1.1" height="41.15" fill="#f5733f"/>
<rect x="598.01" y="363.24" width="1.1" height="78.42" fill="#f5733f"/>
<rect x="599.55" y="363.24" width="1.1" height="39.60" fill="#f5733f"/>
<rect x="601.09" y="363.24" width="1.1" height="37.27" fill="#f5733f"/>
<line x1="127.3" x2="602.9" y1="332.7" y2="332.7" stroke="#1e8cf0" stroke-width="1.5" stroke-dasharray="10.1,10.03"/>
<line x1="127.3" x2="602.9" y1="388.3" y2="388.3" stroke="#f0802a" stroke-width="1.5" stroke-dasharray="10.1,10.03"/>
<polyline points="126.00,338.00 229.67,338.00 230.90,361.29 281.40,361.29 282.64,344.60 338.83,344.60 340.06,366.81 545.14,366.81 546.37,387.30 597.02,387.30 598.25,411.37 601.64,411.37" fill="none" stroke="#000" stroke-width="2"/>
<rect x="126.0" y="249.1" width="476.9" height="217.4" fill="none" stroke="#a8a8a8" stroke-width="1.2"/>
<line x1="125.4" x2="603.5" y1="466.5" y2="466.5" stroke="#8c8c8c" stroke-width="1.2"/>
<text x="121.5" y="252.6" font-size="9.9" text-anchor="end" fill="#222">1.6</text>
<text x="121.5" y="283.7" font-size="9.9" text-anchor="end" fill="#222">1.2</text>
<line x1="126.0" x2="131.0" y1="280.2" y2="280.2" stroke="#666" stroke-width="0.8"/>
<text x="121.5" y="314.7" font-size="9.9" text-anchor="end" fill="#222">0.8</text>
<line x1="126.0" x2="131.0" y1="311.2" y2="311.2" stroke="#666" stroke-width="0.8"/>
<text x="121.5" y="345.8" font-size="9.9" text-anchor="end" fill="#222">0.4</text>
<line x1="126.0" x2="131.0" y1="342.3" y2="342.3" stroke="#666" stroke-width="0.8"/>
<text x="121.5" y="376.8" font-size="9.9" text-anchor="end" fill="#222">0</text>
<line x1="126.0" x2="131.0" y1="373.3" y2="373.3" stroke="#666" stroke-width="0.8"/>
<text x="121.5" y="407.9" font-size="9.9" text-anchor="end" fill="#222">-0.4</text>
<line x1="126.0" x2="131.0" y1="404.4" y2="404.4" stroke="#666" stroke-width="0.8"/>
<text x="121.5" y="438.9" font-size="9.9" text-anchor="end" fill="#222">-0.8</text>
<line x1="126.0" x2="131.0" y1="435.4" y2="435.4" stroke="#666" stroke-width="0.8"/>
<text x="121.5" y="470.0" font-size="9.9" text-anchor="end" fill="#222">-1.2</text>
<text x="141.3" y="486.2" font-size="9.9" text-anchor="middle" fill="#222">1720</text>
<line x1="141.3" x2="141.3" y1="466.5" y2="471.5" stroke="#666" stroke-width="0.8"/>
<text x="202.9" y="486.2" font-size="9.9" text-anchor="middle" fill="#222">1760</text>
<line x1="202.9" x2="202.9" y1="466.5" y2="471.5" stroke="#666" stroke-width="0.8"/>
<text x="264.5" y="486.2" font-size="9.9" text-anchor="middle" fill="#222">1800</text>
<line x1="264.5" x2="264.5" y1="466.5" y2="471.5" stroke="#666" stroke-width="0.8"/>
<text x="326.1" y="486.2" font-size="9.9" text-anchor="middle" fill="#222">1840</text>
<line x1="326.1" x2="326.1" y1="466.5" y2="471.5" stroke="#666" stroke-width="0.8"/>
<text x="387.6" y="486.2" font-size="9.9" text-anchor="middle" fill="#222">1880</text>
<line x1="387.6" x2="387.6" y1="466.5" y2="471.5" stroke="#666" stroke-width="0.8"/>
<text x="449.2" y="486.2" font-size="9.9" text-anchor="middle" fill="#222">1920</text>
<line x1="449.2" x2="449.2" y1="466.5" y2="471.5" stroke="#666" stroke-width="0.8"/>
<text x="510.8" y="486.2" font-size="9.9" text-anchor="middle" fill="#222">1960</text>
<line x1="510.8" x2="510.8" y1="466.5" y2="471.5" stroke="#666" stroke-width="0.8"/>
<text x="572.4" y="486.2" font-size="9.9" text-anchor="middle" fill="#222">2000</text>
<line x1="572.4" x2="572.4" y1="466.5" y2="471.5" stroke="#666" stroke-width="0.8"/>
<text x="364.6" y="497.8" font-size="11.2" text-anchor="middle" fill="#111">Year</text>
<text transform="translate(98.8,357.6) rotate(-90)" font-size="11.15" text-anchor="middle" fill="#111">SPEI reconstruction (Apr.-Aug.)</text>
<text x="449.0" y="319.8" font-size="12.6" fill="#111">mean+1σ</text>
<text x="449.0" y="408.0" font-size="12.6" fill="#111">mean-1σ</text>
</svg>
</body></html>
